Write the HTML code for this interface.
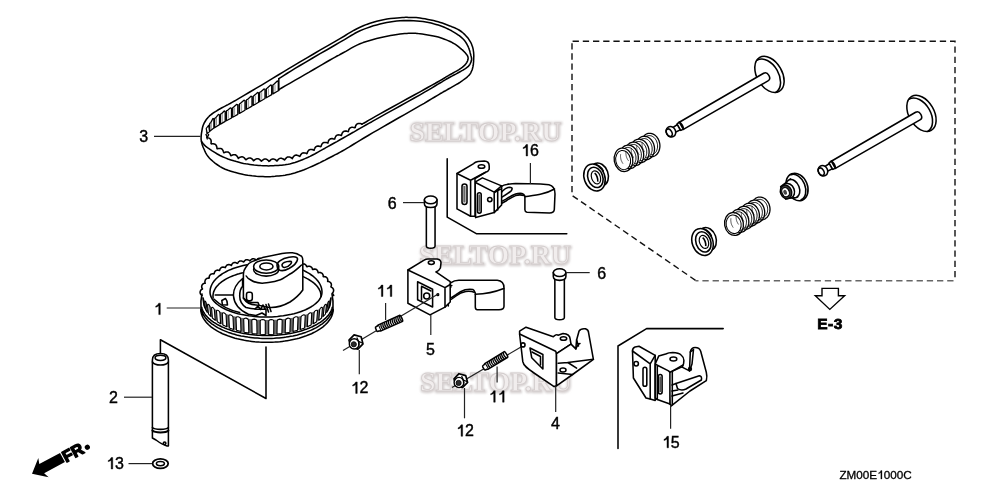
<!DOCTYPE html>
<html><head><meta charset="utf-8"><style>
html,body{margin:0;padding:0;background:#fff;}
body{width:1000px;height:499px;overflow:hidden;}
svg{display:block;will-change:transform;}
text{-webkit-font-smoothing:antialiased;}
.s{fill:none;stroke:#000;stroke-width:1.55;stroke-linejoin:round;stroke-linecap:round;}
.w{fill:#fff;stroke:#000;stroke-width:1.55;stroke-linejoin:round;}
.t{fill:#888;stroke:#000;stroke-width:1;}
.tw{fill:#fff;stroke:#000;stroke-width:1.1;stroke-linejoin:round;}
.tt{stroke:#000;stroke-width:1;}
.l{stroke:#222;stroke-width:1.2;}
.lb{font-family:"Liberation Sans",sans-serif;font-size:16px;fill:#000;stroke:#000;stroke-width:0.4;text-anchor:middle;}
.wm{font-family:"Liberation Serif",serif;font-weight:bold;font-size:27.5px;fill:#f1eded;stroke:#d3cdcd;stroke-width:0.8;filter:url(#wmblur);}
.wmh{font-family:"Liberation Serif",serif;font-weight:bold;font-size:27.5px;fill:#d6d0d0;stroke:#d6d0d0;stroke-width:2.6;filter:url(#wmblur2);}
</style></head><body>
<svg width="1000" height="499" viewBox="0 0 1000 499">
<defs><filter id="wmblur" x="-5%" y="-20%" width="110%" height="140%"><feGaussianBlur stdDeviation="0.5"/></filter><filter id="wmblur2" x="-5%" y="-30%" width="110%" height="160%"><feGaussianBlur stdDeviation="1.3"/></filter></defs>
<rect width="1000" height="499" fill="#fff"/>
<text x="409.79999999999995" y="141.2" class="wmh" textLength="152" lengthAdjust="spacingAndGlyphs">SELTOP.RU</text><text x="409.4" y="140.6" class="wm" textLength="152" lengthAdjust="spacingAndGlyphs">SELTOP.RU</text><text x="419.4" y="264.6" class="wmh" textLength="152" lengthAdjust="spacingAndGlyphs">SELTOP.RU</text><text x="419" y="264" class="wm" textLength="152" lengthAdjust="spacingAndGlyphs">SELTOP.RU</text><text x="420.4" y="391.6" class="wmh" textLength="152" lengthAdjust="spacingAndGlyphs">SELTOP.RU</text><text x="420" y="391" class="wm" textLength="152" lengthAdjust="spacingAndGlyphs">SELTOP.RU</text>
<g id="belt"><path d="M201.2,136.0 L201.3,134.6 L201.5,133.1 L201.8,131.3 L202.1,129.6 L202.4,128.0 L202.8,126.5 L203.2,125.2 L203.7,124.1 L204.2,123.0 L204.8,122.0 L205.4,121.0 L206.0,120.0 L206.7,119.1 L207.4,118.2 L208.2,117.3 L209.0,116.5 L209.8,115.6 L210.8,114.8 L211.9,114.0 L213.0,113.2 L214.2,112.3 L215.5,111.6 L216.7,110.8 L218.0,110.0 L219.3,109.2 L220.6,108.5 L221.9,107.8 L223.2,107.1 L224.6,106.4 L226.0,105.6 L227.2,105.0 L228.0,104.6 L228.9,104.1 L230.1,103.5 L232.0,102.4 L234.9,100.8 L239.0,98.4 L244.1,95.4 L249.8,92.0 L255.9,88.4 L262.0,84.8 L267.7,81.4 L273.0,78.2 L278.2,75.0 L283.4,71.9 L288.7,68.7 L294.2,65.4 L300.0,61.9 L306.5,58.1 L313.5,54.0 L320.8,49.7 L327.9,45.6 L334.4,41.8 L340.0,38.6 L344.5,36.0 L348.1,33.7 L351.2,31.9 L354.1,30.2 L356.9,28.7 L360.0,27.2 L363.3,25.8 L366.7,24.4 L370.0,23.3 L373.3,22.2 L376.7,21.2 L380.0,20.4 L383.4,19.7 L387.0,19.1 L390.6,18.6 L394.1,18.3 L397.2,18.0 L400.0,17.7 L402.2,17.5 L404.1,17.4 L405.6,17.3 L407.0,17.3 L408.4,17.4 L410.0,17.4 L411.6,17.4 L413.1,17.4 L414.6,17.5 L416.2,17.6 L418.0,17.7 L420.0,18.0 L422.4,18.4 L425.0,18.8 L427.9,19.4 L430.7,20.0 L433.5,20.6 L436.0,21.2 L438.2,21.8 L440.3,22.4 L442.3,23.1 L444.2,23.8 L446.1,24.5 L448.0,25.2 L449.9,25.9 L451.9,26.7 L453.8,27.4 L455.6,28.3 L457.4,29.1 L459.0,30.0 L460.5,31.0 L461.9,32.0 L463.1,33.0 L464.3,34.1 L465.4,35.2 L466.5,36.4 L467.5,37.6 L468.5,38.8 L469.3,40.1 L470.1,41.4 L470.9,42.7 L471.5,44.0 L472.0,45.4 L472.5,46.8 L472.9,48.2 L473.2,49.6 L473.4,51.0 L473.6,52.4 L473.7,53.8 L473.8,55.2 L473.8,56.6 L473.7,58.0 L473.7,59.3 L473.6,60.5 L473.6,61.6 L473.5,62.5 L473.4,63.4 L473.4,64.3 L473.2,65.1 L473.1,66.0 L472.9,66.9 L472.7,67.7 L472.5,68.5 L472.3,69.4 L472.0,70.2 L471.6,71.0 L471.2,71.8 L470.9,72.6 L470.5,73.3 L470.0,74.1 L469.3,74.9 L468.5,75.8 L467.4,76.8 L466.2,77.8 L464.8,78.9 L463.3,80.0 L461.7,81.2 L460.0,82.3 L458.2,83.5 L456.1,84.7 L454.0,85.9 L451.8,87.1 L449.8,88.3 L448.0,89.3 L446.6,90.1 L445.5,90.7 L444.5,91.2 L443.4,91.8 L442.0,92.7 L440.0,93.8 L437.5,95.3 L434.7,97.0 L431.5,98.9 L428.0,101.0 L424.2,103.3 L420.0,105.7 L415.3,108.4 L410.1,111.4 L404.5,114.6 L398.8,117.8 L393.2,121.0 L388.0,124.0 L383.0,126.9 L377.9,129.8 L372.9,132.7 L368.2,135.5 L363.9,138.0 L360.0,140.3 L356.7,142.3 L354.0,144.0 L351.6,145.5 L349.4,146.9 L347.2,148.2 L344.8,149.6 L342.3,151.0 L339.8,152.4 L337.4,153.7 L334.9,154.9 L332.5,156.2 L330.0,157.5 L327.5,158.8 L325.1,160.1 L322.6,161.3 L320.1,162.6 L317.6,163.8 L315.0,165.0 L312.3,166.2 L309.6,167.4 L306.8,168.6 L304.1,169.7 L301.4,170.7 L299.0,171.6 L296.8,172.3 L294.7,173.0 L292.8,173.5 L290.9,174.0 L289.0,174.4 L287.0,174.8 L285.0,175.2 L282.9,175.5 L280.9,175.7 L278.9,175.9 L276.9,176.1 L275.0,176.3 L273.3,176.4 L271.6,176.6 L270.1,176.7 L268.5,176.7 L266.8,176.7 L265.0,176.7 L263.0,176.6 L260.9,176.5 L258.7,176.4 L256.4,176.3 L254.2,176.0 L252.0,175.8 L249.9,175.5 L247.8,175.3 L245.7,174.9 L243.6,174.6 L241.4,174.1 L239.0,173.5 L236.4,172.8 L233.7,172.1 L230.8,171.2 L228.0,170.3 L225.2,169.2 L222.6,168.0 L220.1,166.6 L217.7,165.0 L215.3,163.3 L213.1,161.5 L211.0,159.7 L209.3,158.0 L207.9,156.3 L206.7,154.6 L205.7,152.8 L204.9,151.1 L204.2,149.5 L203.5,148.0 L202.9,146.6 L202.5,145.4 L202.1,144.2 L201.8,143.1 L201.6,142.0 L201.4,141.0 L201.2,140.1 L201.1,139.4 L201.1,138.7 L201.1,137.9 L201.1,137.1 Z" class="w"/><path d="M278.8,78.6 L280.9,77.3 L283.6,75.6 L286.9,73.5 L290.8,71.1 L295.1,68.4 L300.0,65.5 L305.8,62.1 L312.7,58.0 L320.1,53.7 L327.5,49.5 L334.3,45.5 L340.0,42.2 L344.5,39.6 L348.1,37.3 L351.2,35.5 L354.1,33.8 L356.9,32.3 L360.0,30.8 L363.3,29.4 L366.7,28.1 L370.0,26.9 L373.3,25.8 L376.7,24.9 L380.0,24.0 L383.3,23.2 L386.7,22.5 L390.0,21.9 L393.3,21.5 L396.7,21.1 L400.0,20.8 L403.4,20.6 L406.8,20.6 L410.2,20.6 L413.6,20.7 L416.9,20.9 L420.0,21.2 L422.9,21.6 L425.8,22.0 L428.5,22.5 L431.1,23.1 L433.6,23.8 L436.0,24.4 L438.3,25.1 L440.4,25.8 L442.4,26.5 L444.3,27.3 L446.2,28.1 L448.0,29.0 L449.8,29.9 L451.6,30.8 L453.3,31.8 L455.0,32.8 L456.6,33.8 L458.0,34.8 L459.3,35.7 L460.5,36.7 L461.6,37.6 L462.6,38.5 L463.6,39.5 L464.5,40.5 L465.3,41.6 L466.1,42.8 L466.8,44.0 L467.4,45.2 L468.0,46.3 L468.5,47.5 L469.0,48.6 L469.3,49.7 L469.7,50.8 L470.0,51.9 L470.2,53.0 L470.5,54.0 L470.8,55.0 L471.0,55.9 L471.3,56.9 L471.5,57.8 L471.6,58.7 L471.6,59.5 L471.5,60.3 L471.3,61.1 L471.0,61.9 L470.7,62.6 L470.4,63.3 L470.0,64.0 L469.7,64.6 L469.4,65.1 L469.0,65.6 L468.6,66.1 L468.0,66.6 L467.3,67.2 L466.4,67.9 L465.4,68.6 L464.2,69.3 L463.0,70.1 L461.5,70.9 L460.0,71.8 L458.2,72.8 L456.2,73.9 L454.0,75.0 L451.9,76.1 L449.8,77.2 L448.0,78.2 L446.6,79.0 L445.5,79.7 L444.5,80.3 L443.4,80.9 L442.0,81.8 L440.0,83.0 L437.6,84.4 L435.0,86.0 L432.0,87.8 L428.6,89.8 L424.6,92.1 L420.0,94.8 L414.3,98.0 L407.4,101.9 L400.0,106.0 L392.6,110.1 L385.7,113.9 L380.0,117.1 L375.5,119.6 L371.9,121.7 L368.8,123.4 L365.9,125.0 L363.1,126.6 L360.0,128.4 L356.6,130.3 L353.2,132.3 L349.8,134.2 L346.5,136.1 L343.2,138.0 L340.0,139.8 L336.9,141.6 L333.8,143.3 L330.7,145.0 L327.8,146.6 L325.0,148.2 L322.4,149.6 L320.1,150.9 L318.0,152.1 L316.0,153.2 L314.1,154.3 L312.2,155.3 L310.0,156.4 L307.6,157.5 L305.0,158.6 L302.4,159.7 L299.7,160.8 L297.2,161.7 L295.0,162.5 L293.0,163.1 L291.3,163.6 L289.7,164.0 L288.1,164.3 L286.6,164.5 L285.0,164.8 L283.3,165.0 L281.7,165.2 L280.0,165.3 L278.3,165.4 L276.7,165.5 L275.0,165.6 L273.4,165.7 L271.8,165.8 L270.2,165.8 L268.6,165.9 L266.8,165.8 L265.0,165.8 L263.0,165.7 L260.9,165.6 L258.7,165.4 L256.4,165.2 L254.2,165.0 L252.0,164.7 L249.9,164.4 L247.8,164.1 L245.7,163.8 L243.6,163.4 L241.4,162.9 L239.0,162.3 L236.4,161.6 L233.7,160.8 L230.9,159.9 L228.0,159.0 L225.3,157.9 L222.6,156.8 L220.0,155.5 L217.3,154.0 L214.7,152.4 L212.2,150.9 L210.0,149.4 L208.2,148.2 L206.8,147.2 L205.8,146.4 L205.1,145.7 L204.5,145.1 L204.0,144.6 L203.5,144.0 L203.0,143.5 L202.6,142.9 L202.3,142.5 L202.0,142.1 L201.8,141.8 L201.6,141.5" class="s"/><path d="M278.8,89.6 L281.6,88.0 L285.6,85.7 L290.2,83.1 L295.2,80.2 L300.2,77.3 L304.8,74.7 L309.2,72.2 L313.7,69.5 L318.2,66.9 L322.5,64.3 L326.5,62.0 L330.0,60.0 L332.9,58.4 L335.2,57.1 L337.1,56.0 L339.0,55.1 L340.9,54.0 L343.2,52.8 L345.8,51.4 L348.4,49.8 L351.2,48.2 L354.0,46.6 L357.0,45.1 L360.0,43.8 L363.1,42.6 L366.4,41.5 L369.8,40.5 L373.2,39.5 L376.6,38.6 L380.0,37.8 L383.4,37.0 L387.0,36.3 L390.5,35.6 L393.9,35.0 L397.1,34.4 L400.0,34.0 L402.5,33.7 L404.7,33.5 L406.8,33.4 L408.6,33.3 L410.3,33.3 L412.0,33.3 L413.5,33.3 L414.7,33.3 L415.8,33.3 L416.9,33.4 L418.2,33.6 L420.0,33.8 L422.2,34.1 L424.9,34.5 L427.8,34.9 L430.7,35.4 L433.5,35.9 L436.0,36.5 L438.3,37.1 L440.5,37.8 L442.6,38.5 L444.5,39.2 L446.3,39.9 L448.0,40.6 L449.5,41.2 L450.7,41.8 L451.9,42.4 L452.9,43.0 L454.0,43.6 L455.0,44.2 L456.1,44.9 L457.1,45.6 L458.1,46.4 L459.0,47.1 L459.9,47.9 L460.8,48.6 L461.6,49.3 L462.4,49.9 L463.1,50.6 L463.7,51.2 L464.4,51.9 L465.0,52.6 L465.6,53.3 L466.2,54.1 L466.8,54.8 L467.4,55.6 L467.8,56.4 L468.0,57.2 L468.1,58.0 L468.1,58.9 L467.9,59.8 L467.6,60.7 L467.2,61.7 L466.7,62.6 L466.1,63.5 L465.3,64.4 L464.5,65.4 L463.4,66.3 L462.2,67.3 L460.8,68.4 L459.0,69.6 L456.9,70.8 L454.5,72.2 L452.2,73.5 L449.9,74.7 L448.0,75.8 L446.5,76.7 L445.4,77.4 L444.4,78.0 L443.4,78.6 L442.0,79.5 L440.0,80.6 L437.6,82.0 L435.0,83.5 L432.0,85.1 L428.6,87.0 L424.6,89.2 L420.0,91.8 L414.2,95.0 L407.3,98.8 L399.9,102.9 L392.4,107.0 L385.6,110.8 L380.0,113.9 L375.5,116.4 L371.7,118.6 L368.5,120.4 L365.9,122.0 L363.7,123.2 L362.0,124.2" class="s"/><path d="M362.0,124.2 L361.2,123.8 L360.5,123.6 L359.9,123.5 L359.3,123.4 L358.7,123.4 L358.2,123.5 L357.7,123.7 L357.2,123.9 L356.8,124.2 L356.5,124.6 L356.1,125.0 L355.8,125.5 L355.6,126.1 L355.4,126.7 L355.2,127.5 L354.8,127.8 L354.1,127.5 L353.5,127.4 L352.8,127.3 L352.2,127.2 L351.7,127.3 L351.2,127.4 L350.7,127.6 L350.3,127.8 L349.9,128.1 L349.5,128.5 L349.2,129.0 L348.9,129.5 L348.7,130.1 L348.5,130.8 L348.4,131.6 L347.7,131.5 L347.0,131.3 L346.4,131.1 L345.8,131.1 L345.2,131.1 L344.7,131.1 L344.2,131.3 L343.7,131.5 L343.3,131.7 L342.9,132.1 L342.6,132.5 L342.3,133.0 L342.0,133.6 L341.8,134.2 L341.6,134.9 L341.4,135.5 L340.6,135.2 L340.0,135.0 L339.3,134.9 L338.7,134.8 L338.2,134.9 L337.6,135.0 L337.2,135.1 L336.7,135.4 L336.3,135.7 L336.0,136.1 L335.6,136.5 L335.4,137.0 L335.1,137.6 L334.9,138.3 L334.8,139.0 L334.2,139.1 L333.5,138.9 L332.9,138.7 L332.3,138.6 L331.7,138.6 L331.1,138.7 L330.6,138.8 L330.2,139.0 L329.7,139.3 L329.4,139.6 L329.0,140.0 L328.7,140.5 L328.4,141.0 L328.2,141.7 L328.0,142.3 L327.9,143.1 L327.1,142.8 L326.4,142.6 L325.8,142.5 L325.2,142.4 L324.6,142.4 L324.1,142.5 L323.6,142.6 L323.2,142.8 L322.8,143.1 L322.4,143.5 L322.1,143.9 L321.8,144.4 L321.5,145.0 L321.3,145.7 L321.1,146.4 L320.7,146.7 L320.0,146.4 L319.3,146.2 L318.7,146.1 L318.1,146.1 L317.6,146.1 L317.1,146.2 L316.6,146.3 L316.2,146.6 L315.8,146.9 L315.4,147.3 L315.1,147.7 L314.8,148.3 L314.5,148.8 L314.3,149.5 L314.1,150.3 L313.5,150.1 L312.8,149.8 L312.2,149.6 L311.6,149.5 L311.0,149.5 L310.5,149.5 L309.9,149.6 L309.5,149.8 L309.0,150.0 L308.6,150.4 L308.3,150.8 L307.9,151.3 L307.6,151.8 L307.4,152.5 L307.2,153.2 L306.9,153.7 L306.2,153.4 L305.5,153.1 L304.9,153.0 L304.3,152.9 L303.8,152.8 L303.3,152.9 L302.9,153.0 L302.4,153.1 L302.0,153.4 L301.6,153.7 L301.3,154.1 L300.9,154.5 L300.6,155.0 L300.2,155.7 L299.9,156.4 L299.4,156.3 L298.8,155.9 L298.2,155.6 L297.6,155.4 L297.0,155.2 L296.5,155.1 L296.0,155.1 L295.5,155.2 L295.0,155.3 L294.6,155.6 L294.2,155.9 L293.8,156.3 L293.4,156.7 L293.0,157.3 L292.6,157.9 L292.3,158.6 L291.6,158.0 L291.0,157.6 L290.4,157.4 L289.9,157.1 L289.3,157.0 L288.8,156.9 L288.3,156.9 L287.8,157.0 L287.4,157.1 L286.9,157.4 L286.5,157.7 L286.1,158.1 L285.6,158.6 L285.2,159.1 L284.9,159.8 L284.4,159.9 L283.8,159.4 L283.2,159.0 L282.7,158.7 L282.1,158.5 L281.6,158.3 L281.1,158.2 L280.6,158.2 L280.2,158.3 L279.7,158.4 L279.2,158.7 L278.8,159.0 L278.3,159.4 L277.9,159.9 L277.4,160.4 L277.0,161.1 L276.4,160.6 L275.9,160.1 L275.4,159.7 L274.9,159.4 L274.3,159.2 L273.8,159.0 L273.4,158.9 L272.8,158.9 L272.4,159.0 L271.9,159.2 L271.4,159.4 L271.0,159.7 L270.5,160.1 L270.0,160.6 L269.5,161.1 L269.0,161.4 L268.5,160.8 L268.0,160.3 L267.5,159.9 L267.0,159.5 L266.5,159.3 L266.1,159.1 L265.6,159.0 L265.1,159.0 L264.6,159.1 L264.1,159.2 L263.6,159.5 L263.1,159.8 L262.5,160.2 L262.0,160.6 L261.5,161.2 L261.0,160.9 L260.5,160.3 L260.1,159.9 L259.6,159.5 L259.1,159.2 L258.7,158.9 L258.2,158.8 L257.7,158.7 L257.2,158.7 L256.7,158.8 L256.2,158.9 L255.7,159.2 L255.1,159.5 L254.6,159.9 L254.1,160.4 L253.5,160.8 L253.1,160.1 L252.7,159.6 L252.2,159.1 L251.7,158.7 L251.3,158.4 L250.8,158.2 L250.3,158.0 L249.8,158.0 L249.3,158.0 L248.8,158.1 L248.3,158.3 L247.7,158.5 L247.2,158.8 L246.7,159.2 L246.1,159.8 L245.6,159.6 L245.2,159.0 L244.8,158.5 L244.4,158.0 L244.0,157.6 L243.5,157.3 L243.1,157.1 L242.7,156.9 L242.2,156.8 L241.7,156.8 L241.2,156.9 L240.7,157.1 L240.1,157.3 L239.5,157.5 L238.9,157.9 L238.3,158.4 L238.0,157.7 L237.6,157.0 L237.3,156.5 L236.9,156.0 L236.5,155.6 L236.1,155.2 L235.7,155.0 L235.3,154.8 L234.8,154.7 L234.3,154.7 L233.7,154.7 L233.2,154.8 L232.6,155.0 L232.0,155.2 L231.3,155.6 L230.8,155.6 L230.5,154.9 L230.2,154.2 L229.9,153.7 L229.6,153.2 L229.2,152.8 L228.8,152.5 L228.4,152.2 L227.9,152.0 L227.4,151.9 L227.0,151.9 L226.4,151.9 L225.8,152.0 L225.2,152.2 L224.6,152.4 L223.9,152.8 L223.6,152.2 L223.3,151.5 L223.2,150.9 L222.9,150.4 L222.6,149.9 L222.3,149.4 L222.0,149.1 L221.6,148.8 L221.1,148.6 L220.6,148.5 L220.2,148.4 L219.6,148.4 L219.0,148.4 L218.4,148.5 L217.6,148.7 L217.0,148.7 L216.9,147.9 L216.9,147.3 L216.7,146.6 L216.5,146.1 L216.3,145.6 L216.0,145.1 L215.7,144.8 L215.3,144.4 L214.9,144.2 L214.4,144.0 L213.9,143.9 L213.4,143.8 L212.7,143.8 L212.1,143.8 L211.3,143.9 L211.0,143.5 L211.1,142.8 L211.1,142.1 L211.2,141.6 L211.1,141.0 L211.1,140.6 L211.0,140.2 L210.8,139.7 L210.6,139.4 L210.3,139.0 L209.9,138.7 L209.4,138.3 L208.9,138.1 L208.4,137.9 L207.7,137.6 L206.9,137.4 L207.4,136.8 L207.8,136.2 L208.1,135.7 L208.4,135.1 L208.5,134.5" class="s"/><path d="M205.8,131.0 L205.9,130.7 L206.0,130.4 L206.1,130.0 L206.2,129.6 L206.3,129.1 L206.5,128.6 L206.7,128.1 L207.0,127.5 L207.3,126.9 L207.7,126.2 L208.2,125.5 L208.6,124.8 L209.1,124.0 L209.6,123.3 L210.1,122.6 L210.6,122.0 L211.1,121.4 L211.5,120.9 L212.0,120.5 L212.5,120.0 L213.0,119.6 L213.5,119.1 L214.0,118.7 L214.6,118.2 L215.2,117.7 L215.9,117.2 L216.6,116.7 L217.3,116.2 L218.0,115.7 L218.7,115.2 L219.5,114.7 L220.2,114.2 L220.9,113.7 L221.7,113.3 L222.5,112.8 L223.2,112.4 L224.0,111.9 L224.8,111.5 L225.7,111.1 L226.5,110.6 L227.2,110.2 L227.6,110.0 L227.9,109.9 L228.3,109.7 L228.9,109.4 L230.0,108.9 L231.5,108.1 L233.8,106.8 L237.1,105.0 L241.3,102.6 L246.3,99.8 L251.5,96.8 L256.8,93.8 L261.8,91.0 L266.1,88.5 L269.5,86.6 L272.0,85.2 L273.9,84.0 L275.3,83.2 L276.4,82.5 L277.2,82.0 L277.7,81.7 L278.3,81.3 L278.8,81.0 L278.8,90.5 L278.2,90.8 L277.7,91.2 L277.0,91.5 L276.2,92.0 L275.0,92.7 L273.6,93.5 L271.7,94.6 L269.3,96.0 L266.1,97.9 L262.0,100.3 L257.3,103.0 L252.4,105.9 L247.4,108.8 L242.8,111.5 L238.8,113.8 L235.7,115.6 L233.5,116.8 L232.0,117.7 L231.0,118.3 L230.4,118.6 L230.0,118.8 L229.6,119.0 L229.2,119.2 L228.5,119.6 L227.6,120.1 L226.8,120.5 L226.0,121.0 L225.2,121.4 L224.3,121.9 L223.5,122.3 L222.8,122.8 L222.0,123.2 L221.3,123.6 L220.5,124.0 L219.8,124.4 L219.1,124.8 L218.4,125.2 L217.8,125.7 L217.1,126.1 L216.4,126.5 L215.7,126.9 L215.0,127.4 L214.3,127.9 L213.6,128.3 L212.9,128.8 L212.2,129.3 L211.6,129.7 L211.0,130.2 L210.4,130.6 L209.9,131.1 L209.3,131.5 L208.8,132.0 L208.3,132.4 L207.9,132.8 L207.5,133.2 L207.2,133.6 L207.0,134.0 L206.8,134.3 L206.7,134.7 L206.6,135.0 L206.6,135.3 L206.6,135.6 L206.5,135.8 L206.5,136.0 Z" style="fill:#6a6a6a;stroke:none"/><path class="tw" style="stroke-width:1.3" d="M209.7,131.2 L209.7,123.8 Q209.7,122.9 210.7,122.9 L212.9,118.5 Q213.9,118.5 213.9,119.4 L213.9,128.1 Z"/><line x1="211.3" y1="122.4" x2="211.3" y2="129.0" style="stroke:#888;stroke-width:0.9"/><path class="tw" style="stroke-width:1.3" d="M214.6,127.7 L214.6,118.8 Q214.6,117.9 215.6,117.9 L218.5,114.4 Q219.5,114.4 219.5,115.3 L219.5,124.6 Z"/><line x1="216.5" y1="118.0" x2="216.5" y2="125.5" style="stroke:#888;stroke-width:0.9"/><path class="tw" style="stroke-width:1.3" d="M220.5,124.1 L220.5,114.6 Q220.5,113.7 221.5,113.7 L224.2,111.0 Q225.2,111.0 225.2,111.9 L225.2,121.4 Z"/><line x1="222.3" y1="114.1" x2="222.3" y2="122.0" style="stroke:#888;stroke-width:0.9"/><path class="tw" style="stroke-width:1.3" d="M226.4,120.8 L226.4,111.3 Q226.4,110.4 227.4,110.4 L230.5,107.8 Q231.5,107.8 231.5,108.7 L231.5,118.0 Z"/><line x1="228.3" y1="110.9" x2="228.3" y2="118.7" style="stroke:#888;stroke-width:0.9"/><path class="tw" style="stroke-width:1.3" d="M232.7,117.3 L232.7,108.0 Q232.7,107.1 233.7,107.1 L236.8,104.3 Q237.8,104.3 237.8,105.2 L237.8,114.4 Z"/><line x1="234.6" y1="107.5" x2="234.6" y2="115.2" style="stroke:#888;stroke-width:0.9"/><path class="tw" style="stroke-width:1.3" d="M239.5,113.4 L239.5,104.2 Q239.5,103.3 240.5,103.3 L244.0,100.2 Q245.0,100.2 245.0,101.1 L245.0,110.2 Z"/><line x1="241.6" y1="103.6" x2="241.6" y2="111.2" style="stroke:#888;stroke-width:0.9"/><path class="tw" style="stroke-width:1.3" d="M246.5,109.3 L246.5,100.3 Q246.5,99.4 247.5,99.4 L251.0,96.2 Q252.0,96.2 252.0,97.1 L252.0,106.1 Z"/><line x1="248.6" y1="99.7" x2="248.6" y2="107.1" style="stroke:#888;stroke-width:0.9"/><path class="tw" style="stroke-width:1.3" d="M253.2,105.4 L253.2,96.5 Q253.2,95.6 254.2,95.6 L257.6,92.5 Q258.6,92.5 258.6,93.4 L258.6,102.2 Z"/><line x1="255.3" y1="95.9" x2="255.3" y2="103.2" style="stroke:#888;stroke-width:0.9"/><path class="tw" style="stroke-width:1.3" d="M259.6,101.7 L259.6,92.8 Q259.6,91.9 260.6,91.9 L264.0,88.9 Q265.0,88.9 265.0,89.8 L265.0,98.5 Z"/><line x1="261.7" y1="92.3" x2="261.7" y2="99.5" style="stroke:#888;stroke-width:0.9"/><path class="tw" style="stroke-width:1.3" d="M266.3,97.7 L266.3,89.0 Q266.3,88.1 267.3,88.1 L270.7,85.0 Q271.7,85.0 271.7,85.9 L271.7,94.6 Z"/><line x1="268.4" y1="88.5" x2="268.4" y2="95.6" style="stroke:#888;stroke-width:0.9"/><path class="tw" style="stroke-width:1.3" d="M272.9,93.9 L272.9,85.2 Q272.9,84.3 273.9,84.3 L277.3,81.0 Q278.3,81.0 278.3,81.9 L278.3,90.8 Z"/><line x1="275.0" y1="84.6" x2="275.0" y2="91.7" style="stroke:#888;stroke-width:0.9"/><path class="tw" style="stroke-width:1.2" d="M206.2,128.5 L208.6,125.3 L209.6,131.6 L207.3,133.6 Z"/><path d="M205.8,134 C206.8,136 207.8,137.5 207.2,139.5" style="fill:none;stroke:#000;stroke-width:1.4"/><line class="s" x1="278.8" y1="78.8" x2="278.8" y2="90.5"/></g>
<line class="l" x1="154" y1="136.4" x2="200.5" y2="136.4"/>
<path d="M572,41.3 L955,41.3 L955,280.8" fill="none" stroke="#111" stroke-width="1.4" stroke-dasharray="6.3 3.9" stroke-dashoffset="-0.6"/>
<path d="M955,280.8 L695.5,280.8" fill="none" stroke="#666" stroke-width="1.5" stroke-dasharray="6.3 3.9" stroke-dashoffset="-1.5"/>
<path d="M695.5,280.3 L572,195.4 L572,41.3" fill="none" stroke="#111" stroke-width="1.4" stroke-dasharray="6.3 3.9"/>
<g id="gear"><path d="M202.0,294.0 L202.1,292.2 L202.4,290.4 L202.8,288.7 L203.4,286.9 L204.2,285.2 L205.2,283.5 L206.3,281.8 L207.6,280.2 L209.1,278.6 L210.7,277.0 L212.5,275.5 L214.4,274.0 L216.5,272.6 L218.7,271.2 L221.0,270.0 L223.5,268.7 L226.1,267.6 L228.8,266.5 L231.6,265.5 L234.5,264.6 L237.5,263.7 L240.6,262.9 L243.7,262.3 L246.9,261.7 L250.2,261.2 L253.5,260.7 L256.8,260.4 L260.2,260.2 L263.6,260.0 L267.0,260.0 L270.4,260.0 L273.8,260.2 L277.2,260.4 L280.5,260.7 L283.8,261.2 L287.1,261.7 L290.3,262.3 L293.4,262.9 L296.5,263.7 L299.5,264.6 L302.4,265.5 L305.2,266.5 L307.9,267.6 L310.5,268.7 L313.0,270.0 L315.3,271.2 L317.5,272.6 L319.6,274.0 L321.5,275.5 L323.3,277.0 L324.9,278.6 L326.4,280.2 L327.7,281.8 L328.8,283.5 L329.8,285.2 L330.6,286.9 L331.2,288.7 L331.6,290.4 L331.9,292.2 L332.0,294.0 L333.2,309.0 L333.1,310.7 L332.8,312.5 L332.4,314.2 L331.8,315.9 L330.9,317.6 L330.0,319.3 L328.8,320.9 L327.5,322.5 L326.0,324.1 L324.3,325.6 L322.5,327.1 L320.6,328.6 L318.4,330.0 L316.2,331.3 L313.8,332.5 L311.3,333.7 L308.7,334.9 L305.9,335.9 L303.1,336.9 L300.1,337.8 L297.1,338.7 L293.9,339.4 L290.7,340.1 L287.5,340.7 L284.1,341.2 L280.8,341.6 L277.4,341.9 L273.9,342.1 L270.5,342.3 L267.0,342.3 L263.5,342.3 L260.1,342.1 L256.6,341.9 L253.2,341.6 L249.9,341.2 L246.5,340.7 L243.3,340.1 L240.1,339.4 L236.9,338.7 L233.9,337.8 L230.9,336.9 L228.1,335.9 L225.3,334.9 L222.7,333.7 L220.2,332.5 L217.8,331.3 L215.6,330.0 L213.4,328.6 L211.5,327.1 L209.7,325.6 L208.0,324.1 L206.5,322.5 L205.2,320.9 L204.0,319.3 L203.1,317.6 L202.2,315.9 L201.6,314.2 L201.2,312.5 L200.9,310.7 L200.8,309.0 Z" style="fill:#fff;stroke:none"/><path d="M333.2,309.7 L333.1,311.0 L332.9,312.2 L332.6,313.5 L332.2,314.8 L331.7,316.1 L331.1,317.3 L330.4,318.6 L329.6,319.8 L328.7,321.0 L327.8,322.2 L326.7,323.4 L325.6,324.5 L324.3,325.7 L323.0,326.8 L321.6,327.8 L320.1,328.9 L318.5,329.9 L316.9,330.9 L315.1,331.9 L313.3,332.8 L311.5,333.7 L309.5,334.5 L307.5,335.3 L305.5,336.1 L303.4,336.8 L301.2,337.5 L299.0,338.2 L296.7,338.8 L294.4,339.3 L292.0,339.8 L289.6,340.3 L287.2,340.7 L284.7,341.1 L282.3,341.4 L279.8,341.7 L277.2,341.9 L274.7,342.1 L272.1,342.2 L269.6,342.3 L267.0,342.3 L264.4,342.3 L261.9,342.2 L259.3,342.1 L256.8,341.9 L254.2,341.7 L251.7,341.4 L249.3,341.1 L246.8,340.7 L244.4,340.3 L242.0,339.8 L239.6,339.3 L237.3,338.8 L235.0,338.2 L232.8,337.5 L230.6,336.8 L228.5,336.1 L226.5,335.3 L224.5,334.5 L222.5,333.7 L220.7,332.8 L218.9,331.9 L217.1,330.9 L215.5,329.9 L213.9,328.9 L212.4,327.8 L211.0,326.8 L209.7,325.7 L208.4,324.5 L207.3,323.4 L206.2,322.2 L205.3,321.0 L204.4,319.8 L203.6,318.6 L202.9,317.3 L202.3,316.1 L201.8,314.8 L201.4,313.5 L201.1,312.2 L200.9,311.0 L200.8,309.7" class="s"/><path d="M332.7,309.2 L332.4,310.4 L332.0,311.6 L331.5,312.8 L331.0,313.9 L330.4,315.1 L329.6,316.2 L328.8,317.4 L327.9,318.5 L327.0,319.6 L325.9,320.7 L324.8,321.7 L323.6,322.7 L322.3,323.8 L320.9,324.7 L319.5,325.7 L318.0,326.6 L316.4,327.6 L314.8,328.4 L313.0,329.3 L311.3,330.1 L309.4,330.9 L307.6,331.6 L305.6,332.4 L303.6,333.0 L301.6,333.7 L299.5,334.3 L297.4,334.9 L295.2,335.4 L293.0,335.9 L290.7,336.3 L288.4,336.7 L286.1,337.1 L283.8,337.4 L281.4,337.7 L279.1,338.0 L276.7,338.1 L274.3,338.3 L271.8,338.4 L269.4,338.5 L267.0,338.5 L264.6,338.5 L262.2,338.4 L259.7,338.3 L257.3,338.1 L254.9,338.0 L252.6,337.7 L250.2,337.4 L247.9,337.1 L245.6,336.7 L243.3,336.3 L241.0,335.9 L238.8,335.4 L236.6,334.9 L234.5,334.3 L232.4,333.7 L230.4,333.0 L228.4,332.4 L226.4,331.6 L224.6,330.9 L222.7,330.1 L221.0,329.3 L219.2,328.4 L217.6,327.6 L216.0,326.6 L214.5,325.7 L213.1,324.7 L211.7,323.8 L210.4,322.7 L209.2,321.7 L208.1,320.7 L207.0,319.6 L206.1,318.5 L205.2,317.4 L204.4,316.2 L203.6,315.1 L203.0,313.9 L202.5,312.8 L202.0,311.6 L201.6,310.4 L201.3,309.2" class="s"/><path d="M332.3,307.3 L332.0,308.5 L331.6,309.6 L331.1,310.8 L330.5,311.9 L329.8,313.0 L329.1,314.1 L328.3,315.2 L327.3,316.3 L326.4,317.3 L325.3,318.4 L324.1,319.4 L322.9,320.4 L321.6,321.3 L320.3,322.3 L318.8,323.2 L317.3,324.1 L315.7,325.0 L314.1,325.8 L312.4,326.7 L310.7,327.4 L308.8,328.2 L307.0,328.9 L305.0,329.6 L303.1,330.3 L301.1,330.9 L299.0,331.5 L296.9,332.0 L294.7,332.5 L292.6,333.0 L290.3,333.4 L288.1,333.8 L285.8,334.2 L283.5,334.5 L281.2,334.7 L278.9,335.0 L276.5,335.2 L274.1,335.3 L271.8,335.4 L269.4,335.5 L267.0,335.5 L264.6,335.5 L262.2,335.4 L259.9,335.3 L257.5,335.2 L255.1,335.0 L252.8,334.7 L250.5,334.5 L248.2,334.2 L245.9,333.8 L243.7,333.4 L241.4,333.0 L239.3,332.5 L237.1,332.0 L235.0,331.5 L232.9,330.9 L230.9,330.3 L229.0,329.6 L227.0,328.9 L225.2,328.2 L223.3,327.4 L221.6,326.7 L219.9,325.8 L218.3,325.0 L216.7,324.1 L215.2,323.2 L213.7,322.3 L212.4,321.3 L211.1,320.4 L209.9,319.4 L208.7,318.4 L207.6,317.3 L206.7,316.3 L205.7,315.2 L204.9,314.1 L204.2,313.0 L203.5,311.9 L202.9,310.8 L202.4,309.6 L202.0,308.5 L201.7,307.3" class="s"/><path class="s" d="M202,294 C200.8,299 200.6,304 201,309 C201.5,312 202,313.5 203,315"/><path class="s" d="M332,294 C333,298.5 333.3,304 333,309 C332.8,311.5 332,313.5 331,315"/><path d="M331.9,294.3 L331.7,295.4 L331.5,296.4 L331.1,297.4 L330.7,298.4 L330.1,299.4 L329.5,300.4 L328.8,301.4 L328.0,302.4 L327.1,303.3 L326.1,304.3 L325.0,305.2 L323.8,306.1 L322.6,307.0 L321.3,307.8 L319.9,308.7 L318.4,309.5 L316.9,310.3 L315.2,311.1 L313.6,311.8 L311.8,312.6 L310.0,313.3 L308.1,313.9 L306.1,314.6 L304.1,315.2 L302.1,315.7 L300.0,316.3 L297.8,316.8 L295.6,317.2 L293.4,317.7 L291.1,318.1 L288.8,318.4 L286.5,318.8 L284.1,319.0 L281.7,319.3 L279.3,319.5 L276.8,319.7 L274.4,319.8 L271.9,319.9 L269.5,320.0 L267.0,320.0 L264.5,320.0 L262.1,319.9 L259.6,319.8 L257.2,319.7 L254.7,319.5 L252.3,319.3 L249.9,319.0 L247.5,318.8 L245.2,318.4 L242.9,318.1 L240.6,317.7 L238.4,317.2 L236.2,316.8 L234.0,316.3 L231.9,315.7 L229.9,315.2 L227.9,314.6 L225.9,313.9 L224.0,313.3 L222.2,312.6 L220.4,311.8 L218.8,311.1 L217.1,310.3 L215.6,309.5 L214.1,308.7 L212.7,307.8 L211.4,307.0 L210.2,306.1 L209.0,305.2 L207.9,304.3 L206.9,303.3 L206.0,302.4 L205.2,301.4 L204.5,300.4 L203.9,299.4 L203.3,298.4 L202.9,297.4 L202.5,296.4 L202.3,295.4 L202.1,294.3 L203.1,301.7 L203.2,303.0 L203.5,304.3 L203.9,305.6 L204.3,306.9 L204.8,308.2 L205.5,309.5 L206.2,310.7 L207.0,312.0 L207.9,313.2 L208.8,314.4 L209.9,315.6 L211.0,316.7 L212.2,317.9 L213.5,319.0 L214.9,320.1 L216.4,321.1 L217.9,322.1 L219.5,323.1 L221.2,324.1 L222.9,325.0 L224.7,325.9 L226.5,326.7 L228.5,327.5 L230.4,328.3 L232.4,329.0 L234.5,329.7 L236.6,330.4 L238.8,331.0 L241.0,331.5 L243.2,332.0 L245.5,332.5 L247.8,332.9 L250.2,333.3 L252.5,333.6 L254.9,333.9 L257.3,334.1 L259.7,334.3 L262.1,334.4 L264.6,334.5 L267.0,334.5 L269.4,334.5 L271.9,334.4 L274.3,334.3 L276.7,334.1 L279.1,333.9 L281.5,333.6 L283.8,333.3 L286.2,332.9 L288.5,332.5 L290.8,332.0 L293.0,331.5 L295.2,331.0 L297.4,330.4 L299.5,329.7 L301.6,329.0 L303.6,328.3 L305.5,327.5 L307.5,326.7 L309.3,325.9 L311.1,325.0 L312.8,324.1 L314.5,323.1 L316.1,322.1 L317.6,321.1 L319.1,320.1 L320.5,319.0 L321.8,317.9 L323.0,316.7 L324.1,315.6 L325.2,314.4 L326.1,313.2 L327.0,312.0 L327.8,310.7 L328.5,309.5 L329.2,308.2 L329.7,306.9 L330.1,305.6 L330.5,304.3 L330.8,303.0 L330.9,301.7 Z" style="fill:#6e6e6e;stroke:none"/><path class="tw" d="M330.2,305.4 L331.2,298.5 Q331.2,297.0 330.7,297.9 Q330.2,299.1 330.2,300.6 L329.2,308.1 Z"/><path class="tw" d="M328.4,309.8 L329.3,302.0 Q329.3,300.5 328.5,301.3 Q327.7,302.5 327.7,304.0 L326.7,312.4 Z"/><path class="tw" d="M325.5,314.0 L326.4,305.3 Q326.4,303.8 325.3,304.5 Q324.1,305.7 324.1,307.2 L323.2,316.5 Z"/><path class="tw" d="M321.6,318.0 L322.4,308.4 Q322.4,306.9 321.0,307.6 Q319.6,308.7 319.6,310.2 L318.8,320.3 Z"/><path class="tw" d="M316.7,321.7 L317.5,311.3 Q317.5,309.8 315.8,310.4 Q314.1,311.4 314.1,312.9 L313.4,323.7 Z"/><path class="tw" d="M311.1,325.0 L311.7,313.9 Q311.7,312.4 309.8,312.9 Q307.9,313.8 307.9,315.3 L307.3,326.8 Z"/><path class="tw" d="M304.6,327.9 L305.2,316.1 Q305.2,314.6 303.1,315.0 Q301.0,315.8 301.0,317.3 L300.4,329.4 Z"/><path class="tw" d="M297.5,330.3 L298.0,318.0 Q298.0,316.5 295.7,316.8 Q293.4,317.5 293.4,319.0 L293.0,331.5 Z"/><path class="tw" d="M289.9,332.2 L290.3,319.5 Q290.3,318.0 287.9,318.1 Q285.5,318.7 285.5,320.2 L285.2,333.1 Z"/><path class="tw" d="M281.9,333.5 L282.2,320.6 Q282.2,319.1 279.7,319.1 Q277.2,319.5 277.2,321.0 L277.0,334.1 Z"/><path class="tw" d="M273.7,334.3 L273.8,321.2 Q273.8,319.7 271.2,319.5 Q268.7,319.8 268.7,321.3 L268.7,334.5 Z"/><path class="tw" d="M265.3,334.5 L265.3,321.3 Q265.3,319.8 262.8,319.5 Q260.2,319.7 260.2,321.2 L260.3,334.3 Z"/><path class="tw" d="M257.0,334.1 L256.8,321.0 Q256.8,319.5 254.3,319.1 Q251.8,319.1 251.8,320.6 L252.1,333.5 Z"/><path class="tw" d="M248.8,333.1 L248.5,320.2 Q248.5,318.7 246.1,318.1 Q243.7,318.0 243.7,319.5 L244.1,332.2 Z"/><path class="tw" d="M241.0,331.5 L240.6,319.0 Q240.6,317.5 238.3,316.8 Q236.0,316.5 236.0,318.0 L236.5,330.3 Z"/><path class="tw" d="M233.6,329.4 L233.0,317.3 Q233.0,315.8 230.9,315.0 Q228.8,314.6 228.8,316.1 L229.4,327.9 Z"/><path class="tw" d="M226.7,326.8 L226.1,315.3 Q226.1,313.8 224.2,312.9 Q222.3,312.4 222.3,313.9 L222.9,325.0 Z"/><path class="tw" d="M220.6,323.7 L219.9,312.9 Q219.9,311.4 218.2,310.4 Q216.5,309.8 216.5,311.3 L217.3,321.7 Z"/><path class="tw" d="M215.2,320.3 L214.4,310.2 Q214.4,308.7 213.0,307.6 Q211.6,306.9 211.6,308.4 L212.4,318.0 Z"/><path class="tw" d="M210.8,316.5 L209.9,307.2 Q209.9,305.7 208.7,304.5 Q207.6,303.8 207.6,305.3 L208.5,314.0 Z"/><path class="tw" d="M207.3,312.4 L206.3,304.0 Q206.3,302.5 205.5,301.3 Q204.7,300.5 204.7,302.0 L205.6,309.8 Z"/><path class="tw" d="M204.8,308.1 L203.8,300.6 Q203.8,299.1 203.3,297.9 Q202.8,297.0 202.8,298.5 L203.8,305.4 Z"/><path d="M202.1,295.4 L201.5,295.1 L201.2,294.8 L201.0,294.6 L200.7,294.3 L200.6,294.0 L200.4,293.7 L200.3,293.4 L200.2,293.1 L200.1,292.8 L200.1,292.5 L200.1,292.2 L200.1,291.9 L200.2,291.6 L200.3,291.3 L200.4,291.0 L200.5,290.7 L200.7,290.4 L200.9,290.1 L201.1,289.9 L201.4,289.6 L201.7,289.4 L202.1,289.2 L202.5,289.0 L202.4,288.7 L202.1,288.3 L202.0,288.0 L201.8,287.6 L201.8,287.2 L201.7,286.9 L201.7,286.6 L201.7,286.2 L201.8,285.9 L201.8,285.6 L202.0,285.3 L202.1,285.0 L202.3,284.7 L202.5,284.5 L202.7,284.2 L202.9,284.0 L203.2,283.8 L203.6,283.6 L203.9,283.4 L204.3,283.3 L204.7,283.2 L205.3,283.2 L205.1,282.7 L205.0,282.2 L204.9,281.8 L204.9,281.4 L205.0,281.0 L205.0,280.7 L205.2,280.3 L205.3,280.0 L205.5,279.7 L205.7,279.4 L205.9,279.1 L206.2,278.9 L206.4,278.7 L206.8,278.5 L207.1,278.4 L207.5,278.2 L207.9,278.2 L208.4,278.1 L208.9,278.1 L209.3,278.0 L209.2,277.5 L209.2,277.0 L209.3,276.5 L209.4,276.1 L209.6,275.7 L209.8,275.4 L210.0,275.1 L210.2,274.8 L210.5,274.5 L210.8,274.3 L211.2,274.1 L211.5,274.0 L211.9,273.9 L212.4,273.8 L212.8,273.8 L213.3,273.8 L213.9,273.9 L214.2,273.7 L214.3,273.1 L214.4,272.6 L214.6,272.2 L214.8,271.8 L215.0,271.4 L215.3,271.1 L215.6,270.8 L215.9,270.6 L216.3,270.4 L216.7,270.3 L217.1,270.2 L217.6,270.1 L218.1,270.2 L218.6,270.2 L219.2,270.4 L219.6,270.4 L219.8,269.8 L220.0,269.2 L220.2,268.8 L220.5,268.4 L220.8,268.0 L221.1,267.7 L221.5,267.5 L221.9,267.3 L222.3,267.2 L222.8,267.1 L223.2,267.1 L223.7,267.2 L224.3,267.3 L224.9,267.5 L225.4,267.6 L225.6,266.9 L225.8,266.4 L226.2,266.0 L226.5,265.6 L226.8,265.2 L227.2,265.0 L227.7,264.8 L228.1,264.7 L228.6,264.6 L229.1,264.6 L229.6,264.7 L230.1,264.8 L230.7,265.1 L231.4,265.5 L231.6,264.7 L231.9,264.2 L232.3,263.7 L232.6,263.3 L233.0,263.0 L233.5,262.8 L233.9,262.6 L234.4,262.6 L234.9,262.5 L235.4,262.6 L236.0,262.8 L236.5,263.0 L237.2,263.4 L237.6,263.2 L238.0,262.6 L238.3,262.1 L238.7,261.7 L239.2,261.4 L239.6,261.1 L240.1,261.0 L240.6,260.9 L241.1,260.9 L241.7,261.0 L242.2,261.2 L242.8,261.4 L243.4,261.9 L243.9,261.8 L244.3,261.2 L244.7,260.7 L245.1,260.3 L245.6,260.0 L246.1,259.8 L246.6,259.7 L247.1,259.7 L247.6,259.7 L248.2,259.9 L248.7,260.1 L249.3,260.4 L249.9,261.0 L250.3,260.5 L250.8,259.9 L251.3,259.5 L251.7,259.2 L252.2,259.0 L252.7,258.8 L253.3,258.8 L253.8,258.8 L254.3,258.9 L254.9,259.2 L255.4,259.5 L256.0,259.9 L256.5,260.1 L257.0,259.5 L257.5,259.0 L258.0,258.7 L258.5,258.4 L259.0,258.3 L259.6,258.2 L260.1,258.3 L260.6,258.4 L261.2,258.6 L261.7,258.9 L262.3,259.4 L262.8,259.9 L263.3,259.2 L263.8,258.8 L264.3,258.5 L264.9,258.2 L265.4,258.1 L265.9,258.0 L266.5,258.0 L267.0,258.2 L267.5,258.4 L268.1,258.7 L268.6,259.2 L269.1,259.8 L269.6,259.3 L270.2,258.9 L270.7,258.5 L271.2,258.3 L271.8,258.2 L272.3,258.1 L272.8,258.2 L273.4,258.3 L273.9,258.5 L274.4,258.9 L274.9,259.3 L275.4,259.9 L275.9,259.8 L276.5,259.3 L277.0,259.0 L277.6,258.7 L278.1,258.6 L278.6,258.6 L279.2,258.6 L279.7,258.7 L280.2,259.0 L280.7,259.3 L281.2,259.7 L281.6,260.2 L282.1,260.7 L282.7,260.1 L283.2,259.8 L283.8,259.5 L284.3,259.4 L284.9,259.3 L285.4,259.4 L285.9,259.5 L286.4,259.7 L286.8,260.0 L287.3,260.4 L287.7,260.8 L288.1,261.5 L288.7,261.4 L289.3,261.0 L289.8,260.7 L290.4,260.6 L290.9,260.5 L291.4,260.5 L291.9,260.6 L292.4,260.7 L292.9,261.0 L293.3,261.3 L293.7,261.7 L294.1,262.2 L294.5,262.9 L295.0,262.7 L295.6,262.4 L296.2,262.2 L296.7,262.0 L297.2,262.0 L297.7,262.0 L298.2,262.1 L298.7,262.3 L299.1,262.5 L299.5,262.9 L299.9,263.3 L300.2,263.7 L300.6,264.3 L301.0,264.6 L301.6,264.3 L302.1,264.1 L302.7,263.9 L303.2,263.9 L303.7,263.9 L304.2,264.0 L304.6,264.1 L305.0,264.4 L305.4,264.7 L305.8,265.0 L306.1,265.4 L306.4,265.9 L306.6,266.5 L307.0,266.8 L307.6,266.5 L308.2,266.3 L308.7,266.3 L309.2,266.2 L309.7,266.3 L310.1,266.4 L310.5,266.5 L310.9,266.8 L311.3,267.1 L311.6,267.4 L311.9,267.8 L312.2,268.2 L312.4,268.8 L312.5,269.4 L313.0,269.4 L313.6,269.2 L314.1,269.1 L314.6,269.1 L315.1,269.1 L315.5,269.2 L315.9,269.3 L316.3,269.5 L316.7,269.7 L317.0,270.0 L317.3,270.4 L317.5,270.7 L317.7,271.1 L317.9,271.6 L318.1,272.1 L318.1,272.8 L318.6,272.7 L319.2,272.6 L319.7,272.5 L320.1,272.6 L320.6,272.6 L321.0,272.7 L321.3,272.9 L321.7,273.1 L322.0,273.3 L322.3,273.6 L322.5,273.9 L322.7,274.2 L322.9,274.6 L323.1,275.0 L323.2,275.5 L323.2,276.0 L323.2,276.5 L323.6,276.7 L324.1,276.6 L324.6,276.7 L325.0,276.7 L325.4,276.8 L325.8,277.0 L326.1,277.1 L326.4,277.3 L326.7,277.6 L327.0,277.8 L327.2,278.1 L327.4,278.4 L327.5,278.7 L327.6,279.1 L327.7,279.5 L327.8,279.9 L327.8,280.3 L327.7,280.7 L327.6,281.3 L327.9,281.5 L328.4,281.5 L328.8,281.6 L329.2,281.7 L329.5,281.9 L329.9,282.1 L330.2,282.3 L330.4,282.5 L330.6,282.7 L330.8,283.0 L331.0,283.3 L331.2,283.6 L331.3,283.9 L331.3,284.2 L331.4,284.5 L331.4,284.9 L331.4,285.3 L331.3,285.6 L331.2,286.0 L331.1,286.4 L330.9,286.8 L331.0,287.1 L331.4,287.2 L331.8,287.4 L332.1,287.6 L332.4,287.8 L332.6,288.1 L332.9,288.3 L333.1,288.6 L333.2,288.9 L333.4,289.2 L333.5,289.4 L333.5,289.7 L333.6,290.0 L333.6,290.4 L333.6,290.7 L333.5,291.0 L333.5,291.3 L333.4,291.6 L333.2,291.9 L333.1,292.2 L332.9,292.6 L332.6,292.9 L332.3,293.2 L332.3,293.4 L332.7,293.7 L332.9,294.0 L333.2,294.3 L333.3,294.6 L333.5,294.9 L333.6,295.2 L333.7,295.5" class="s"/><path d="M322.0,292.0 L321.9,293.3 L321.7,294.6 L321.3,295.9 L320.8,297.2 L320.1,298.5 L319.3,299.7 L318.3,301.0 L317.2,302.2 L315.9,303.3 L314.5,304.5 L313.0,305.6 L311.3,306.7 L309.5,307.7 L307.6,308.7 L305.6,309.7 L303.5,310.6 L301.2,311.4 L298.9,312.2 L296.5,313.0 L294.0,313.7 L291.4,314.3 L288.8,314.8 L286.1,315.3 L283.3,315.8 L280.5,316.1 L277.6,316.5 L274.8,316.7 L271.9,316.9 L268.9,317.0 L266.0,317.0 L263.1,317.0 L260.1,316.9 L257.2,316.7 L254.4,316.5 L251.5,316.1 L248.7,315.8 L245.9,315.3 L243.2,314.8 L240.6,314.3 L238.0,313.7 L235.5,313.0 L233.1,312.2 L230.8,311.4 L228.5,310.6 L226.4,309.7 L224.4,308.7 L222.5,307.7 L220.7,306.7 L219.0,305.6 L217.5,304.5 L216.1,303.3 L214.8,302.2 L213.7,301.0 L212.7,299.7 L211.9,298.5 L211.2,297.2 L210.7,295.9 L210.3,294.6 L210.1,293.3 L210.0,292.0 L210.0,292.0 L210.1,290.5 L210.3,289.0 L210.7,287.5 L211.2,286.0 L211.9,284.5 L212.7,283.0 L213.7,281.6 L214.8,280.2 L216.1,278.8 L217.5,277.5 L219.0,276.2 L220.7,275.0 L222.5,273.7 L224.4,272.6 L226.4,271.5 L228.5,270.4 L230.8,269.5 L233.1,268.5 L235.5,267.7 L238.0,266.9 L240.6,266.2 L243.2,265.5 L245.9,264.9 L248.7,264.4 L251.5,264.0 L254.4,263.6 L257.2,263.4 L260.1,263.2 L263.1,263.0 L266.0,263.0 L268.9,263.0 L271.9,263.2 L274.8,263.4 L277.6,263.6 L280.5,264.0 L283.3,264.4 L286.1,264.9 L288.8,265.5 L291.4,266.2 L294.0,266.9 L296.5,267.7 L298.9,268.5 L301.2,269.5 L303.5,270.4 L305.6,271.5 L307.6,272.6 L309.5,273.7 L311.3,275.0 L313.0,276.2 L314.5,277.5 L315.9,278.8 L317.2,280.2 L318.3,281.6 L319.3,283.0 L320.1,284.5 L320.8,286.0 L321.3,287.5 L321.7,289.0 L321.9,290.5 L322.0,292.0 Z" class="s"/><path d="M213.1,297.6 L213.0,296.6 L213.0,295.5 L213.1,294.5 L213.3,293.4 L213.5,292.4 L213.9,291.4 L214.3,290.3 L214.8,289.3 L215.4,288.3 L216.1,287.3 L216.9,286.3 L217.7,285.4 L218.6,284.4 L219.6,283.5 L220.7,282.6 L221.9,281.7 L223.1,280.8 L224.4,280.0 L225.8,279.2 L227.2,278.4 L228.7,277.6 L230.3,276.9 L231.9,276.2 L233.6,275.6 L235.4,274.9 L237.2,274.3 L239.0,273.8 L240.9,273.2 L242.8,272.8 L244.8,272.3 L246.8,271.9 L248.8,271.5 L250.9,271.2 L252.9,270.9 L255.1,270.6 L257.2,270.4 L259.3,270.3 L261.5,270.1 L263.7,270.0 L265.8,270.0 L268.0,270.0 L270.2,270.0 L272.4,270.1 L274.5,270.3 L276.7,270.4 L278.8,270.6 L280.9,270.9 L283.0,271.2 L285.1,271.5 L287.1,271.9 L289.1,272.3 L291.1,272.7 L293.0,273.2 L294.9,273.7 L296.7,274.3 L298.5,274.9 L300.3,275.5 L302.0,276.2 L303.6,276.9 L305.2,277.6 L306.7,278.4 L308.1,279.1 L309.5,280.0 L310.8,280.8 L312.0,281.7 L313.2,282.5 L314.3,283.4 L315.3,284.4 L316.2,285.3 L317.1,286.3 L317.9,287.3 L318.5,288.3 L319.2,289.3 L319.7,290.3 L320.1,291.3 L320.5,292.3 L320.7,293.4 L320.9,294.4 L321.0,295.5 L321.0,296.5" class="s"/><path class="s" d="M213.8,299 C220,305 230,310.5 239.7,312.4"/><line class="s" x1="215.2" y1="295" x2="233.5" y2="295"/><path class="w" d="M242.6,278.5 C236,284 233,290 233.5,296 C234,303 238,309.5 248.4,314.3 L256,315.5 L262,313 L266,315.5 L266,309 C260,309.5 252,309 246,307.5 C241.5,304.5 239.7,300.5 239.7,296 C239.7,291.5 240.5,288.5 242.6,286.4 Z"/><path class="w" d="M221.8,300.5 L225.5,298.5 C227,300 227.5,302 227.5,305 L222.4,304.7 Z"/><path class="w" d="M243.4,274 L243.4,298 C246,302.5 251,304.8 256,305 C261,305.2 264,306.8 268,307.3 C275,308 282,306.5 290,302 C296,298 300,294 302.8,290 L302.8,260.4 C302.8,258 302,256.8 301.7,256.4 C299,254.5 296,253 292.4,252.8 C288,252.6 285,253 282,253.6 L262.5,257.6 L252,261.6 C249.5,262.5 247.5,264.5 246,267 C244.5,269 243.4,271 243.4,274 Z"/><path class="s" d="M301.5,265 C297,269 294,272 290,274 C286,276.5 283,278.8 280.4,279.7 C276,281.2 273,282 270,282.3 C266,282.8 264,283.3 262,283.2 C257,283 253,281.5 250.8,280 C248.5,278.8 247,277.5 246.2,276"/><rect class="w" x="246.5" y="292.2" width="5.8" height="8.6" rx="2.2"/><path class="s" d="M243.4,298 C246,301 248,302 252,302.5 L258,302.5 L259,305"/><path class="s" d="M255,309 L258,306 L260.5,309.5 L263,305 L265,309 M266,304.5 L268.5,312 M268.5,304 L271,311.5"/><ellipse class="w" cx="266.2" cy="269.5" rx="12.6" ry="6.6"/><ellipse class="w" cx="266.2" cy="266.6" rx="12.6" ry="6.6"/><ellipse class="s" cx="266.4" cy="266.4" rx="6.6" ry="3.5"/><path class="s" d="M277,265.5 C276.5,262 282,258.5 289,257.2 C294,256.3 298,256.8 297.5,259.5 C297,262.5 293.5,266 289,268.5 C285,270.6 281,271 279,269.8 C277.6,269 277,267.5 277,265.5 Z"/><path class="s" d="M282,264.8 C282.5,263 286,261.5 290,261.3 C292,261.3 292,262.5 290.5,264.2 C289,266 286.5,267.3 284.5,267.5 C283,267.6 282,266.5 282,264.8 Z"/></g>
<line class="l" x1="166.7" y1="308" x2="201" y2="308"/>
<g id="shaft"><path class="w" d="M152.4,360 C152.4,355 156,353.4 160.5,353.4 C165,353.4 168.4,355 168.4,360 L168.4,446 L167,446 C163,445 160,443 156,440 L152.4,438 Z"/><ellipse class="s" cx="160.5" cy="357.8" rx="5.4" ry="2.6"/><path class="s" d="M152.4,362 C155,366 166,366 168.4,362"/><path class="s" d="M152.4,427.5 C155,430 166,430 168.4,427.5"/><path class="s" style="stroke-width:2" d="M152.4,430.5 C155,433 166,433 168.4,430.5"/><circle class="s" cx="164.6" cy="443.2" r="1.3"/></g>
<path class="s" d="M160.4,353 L160.4,339.8 L266,398.5 L266,347" fill="none"/>
<line class="l" x1="124" y1="397.2" x2="152" y2="397.2"/>
<ellipse class="s" style="stroke-width:1.8" cx="160.4" cy="463.6" rx="7.8" ry="4.8"/>
<ellipse class="s" cx="160.4" cy="463.6" rx="4" ry="2.2"/>
<line class="l" x1="128.5" y1="463.6" x2="152" y2="463.6"/>
<g transform="translate(670.5 132) rotate(-29.94)"><ellipse class="w" cx="114.5" cy="-0.5" rx="12.6" ry="19.6"/><path class="s" d="M111,-19 A12.2,18.6 0 0 1 111,18.2"/><path class="w" d="M12.5,-4.1 L110,-4.4 C112.5,-4.4 113.5,-2 113.5,0 C113.5,2 112.5,4.4 110,4.4 L12.5,4.1 Z"/><path class="s" d="M12.5,-4.1 C14,-2 14,2 12.5,4.1 M10.5,-3.6 C12,-2 12,2 10.5,3.6"/><path class="w" d="M9.5,-3.6 L12.5,-4.1 L12.5,4.1 L9.5,3.6 Z"/><path class="w" d="M3.5,-2.6 L9.5,-3 L9.5,3 L3.5,2.6 Z"/><ellipse class="w" cx="0.5" cy="0" rx="4.6" ry="5.4"/><ellipse class="s" cx="-1.5" cy="0" rx="2.6" ry="4"/></g>
<g transform="translate(822.5 171) rotate(-29.94)"><ellipse class="w" cx="114.5" cy="-0.5" rx="12.6" ry="19.6"/><path class="s" d="M111,-19 A12.2,18.6 0 0 1 111,18.2"/><path class="w" d="M12.5,-4.1 L110,-4.4 C112.5,-4.4 113.5,-2 113.5,0 C113.5,2 112.5,4.4 110,4.4 L12.5,4.1 Z"/><path class="s" d="M12.5,-4.1 C14,-2 14,2 12.5,4.1 M10.5,-3.6 C12,-2 12,2 10.5,3.6"/><path class="w" d="M9.5,-3.6 L12.5,-4.1 L12.5,4.1 L9.5,3.6 Z"/><path class="w" d="M3.5,-2.6 L9.5,-3 L9.5,3 L3.5,2.6 Z"/><ellipse class="w" cx="0.5" cy="0" rx="4.6" ry="5.4"/><ellipse class="s" cx="-1.5" cy="0" rx="2.6" ry="4"/></g>
<g><path d="M644.1,135.7 L644.9,135.1 L645.6,134.5 L646.4,134.0 L647.3,133.7 L648.2,133.4 L649.1,133.3 L650.0,133.3 L650.9,133.4 L651.8,133.6 L652.7,133.9 L653.6,134.3 L654.4,134.8 L655.3,135.4 L656.0,136.1 L656.8,136.9 L657.4,137.8 L658.0,138.7 L658.5,139.7 L659.0,140.8 L659.3,141.9 L659.6,143.0 L659.8,144.1 L659.9,145.3 L659.9,146.4 L659.8,147.6 L659.6,148.7 L659.4,149.8 L659.0,150.8 L658.6,151.8 L658.1,152.7 L657.5,153.5 L656.9,154.3 L656.1,154.9 L655.4,155.5 L654.6,156.0 L653.7,156.3 L652.8,156.6 L651.9,156.7 L651.0,156.7 L650.1,156.6" style="fill:none;stroke:#000;stroke-width:1.3;stroke-linecap:round"/><path d="M646.0,136.7 L646.6,136.3 L647.2,136.0 L647.8,135.8 L648.5,135.6 L649.1,135.6 L649.8,135.6 L650.5,135.7 L651.1,135.8 L651.8,136.1 L652.4,136.4 L653.1,136.7 L653.7,137.2 L654.2,137.7 L654.8,138.3 L655.3,138.9 L655.7,139.6 L656.2,140.3 L656.5,141.1 L656.8,141.9 L657.1,142.7 L657.3,143.5 L657.5,144.4 L657.5,145.2 L657.6,146.1 L657.5,147.0 L657.5,147.8 L657.3,148.6 L657.1,149.4 L656.8,150.2 L656.5,150.9 L656.2,151.6 L655.7,152.2 L655.3,152.7 L654.8,153.2 L654.2,153.7 L653.7,154.1 L653.1,154.4 L652.4,154.6 L651.8,154.7 L651.1,154.8" style="fill:none;stroke:#000;stroke-width:1.0;stroke-linecap:round"/><path d="M644.4,151.6 L644.2,151.4 L644.1,151.2 L644.0,151.0 L643.9,150.8 L643.8,150.6 L643.7,150.4 L643.6,150.2 L643.5,150.0 L643.4,149.8 L643.3,149.6 L643.2,149.4 L643.1,149.1 L643.0,148.9 L642.9,148.7 L642.8,148.5 L642.8,148.3 L642.7,148.0 L642.6,147.8 L642.6,147.6 L642.5,147.4 L642.5,147.1 L642.4,146.9 L642.4,146.7 L642.3,146.4 L642.3,146.2 L642.3,146.0 L642.2,145.7 L642.2,145.5 L642.2,145.3 L642.2,145.0 L642.1,144.8 L642.1,144.6 L642.1,144.3 L642.1,144.1 L642.1,143.9 L642.1,143.6 L642.1,143.4 L642.1,143.2 L642.2,142.9 L642.2,142.7" style="fill:none;stroke:#000;stroke-width:0.7;stroke-linecap:round"/><path d="M638.7,138.7 L639.5,138.0 L640.2,137.5 L641.0,137.0 L641.9,136.6 L642.8,136.4 L643.7,136.3 L644.6,136.2 L645.5,136.3 L646.4,136.5 L647.3,136.8 L648.2,137.2 L649.0,137.8 L649.9,138.4 L650.6,139.1 L651.4,139.9 L652.0,140.8 L652.6,141.7 L653.1,142.7 L653.6,143.7 L653.9,144.8 L654.2,146.0 L654.4,147.1 L654.5,148.3 L654.5,149.4 L654.4,150.5 L654.2,151.7 L654.0,152.7 L653.6,153.8 L653.2,154.7 L652.7,155.6 L652.1,156.5 L651.5,157.2 L650.7,157.9 L650.0,158.4 L649.2,158.9 L648.3,159.3 L647.4,159.5 L646.5,159.7 L645.6,159.7 L644.7,159.6" style="fill:none;stroke:#000;stroke-width:1.3;stroke-linecap:round"/><path d="M640.6,139.6 L641.2,139.3 L641.8,139.0 L642.4,138.7 L643.1,138.6 L643.7,138.5 L644.4,138.5 L645.1,138.6 L645.7,138.8 L646.4,139.0 L647.0,139.3 L647.7,139.7 L648.3,140.2 L648.8,140.7 L649.4,141.2 L649.9,141.9 L650.3,142.5 L650.8,143.3 L651.1,144.0 L651.4,144.8 L651.7,145.6 L651.9,146.5 L652.1,147.3 L652.1,148.2 L652.2,149.1 L652.1,149.9 L652.1,150.8 L651.9,151.6 L651.7,152.4 L651.4,153.1 L651.1,153.8 L650.8,154.5 L650.3,155.1 L649.9,155.7 L649.4,156.2 L648.8,156.6 L648.3,157.0 L647.7,157.3 L647.0,157.6 L646.4,157.7 L645.7,157.8" style="fill:none;stroke:#000;stroke-width:1.0;stroke-linecap:round"/><path d="M639.0,154.5 L638.8,154.3 L638.7,154.1 L638.6,154.0 L638.5,153.8 L638.4,153.6 L638.3,153.4 L638.2,153.2 L638.1,153.0 L638.0,152.7 L637.9,152.5 L637.8,152.3 L637.7,152.1 L637.6,151.9 L637.5,151.7 L637.4,151.4 L637.4,151.2 L637.3,151.0 L637.2,150.8 L637.2,150.6 L637.1,150.3 L637.1,150.1 L637.0,149.9 L637.0,149.6 L636.9,149.4 L636.9,149.2 L636.9,148.9 L636.8,148.7 L636.8,148.5 L636.8,148.2 L636.8,148.0 L636.7,147.8 L636.7,147.5 L636.7,147.3 L636.7,147.1 L636.7,146.8 L636.7,146.6 L636.7,146.4 L636.7,146.1 L636.8,145.9 L636.8,145.7" style="fill:none;stroke:#000;stroke-width:0.7;stroke-linecap:round"/><path d="M633.3,141.7 L634.1,141.0 L634.8,140.4 L635.6,140.0 L636.5,139.6 L637.4,139.4 L638.3,139.2 L639.2,139.2 L640.1,139.3 L641.0,139.5 L641.9,139.8 L642.8,140.2 L643.6,140.7 L644.5,141.3 L645.2,142.0 L646.0,142.8 L646.6,143.7 L647.2,144.7 L647.7,145.7 L648.2,146.7 L648.5,147.8 L648.8,148.9 L649.0,150.1 L649.1,151.2 L649.1,152.4 L649.0,153.5 L648.8,154.6 L648.6,155.7 L648.2,156.7 L647.8,157.7 L647.3,158.6 L646.7,159.4 L646.1,160.2 L645.3,160.8 L644.6,161.4 L643.8,161.9 L642.9,162.2 L642.0,162.5 L641.1,162.6 L640.2,162.6 L639.3,162.6" style="fill:none;stroke:#000;stroke-width:1.3;stroke-linecap:round"/><path d="M635.2,142.6 L635.8,142.2 L636.4,141.9 L637.0,141.7 L637.7,141.6 L638.3,141.5 L639.0,141.5 L639.7,141.6 L640.3,141.7 L641.0,142.0 L641.6,142.3 L642.3,142.7 L642.9,143.1 L643.4,143.6 L644.0,144.2 L644.5,144.8 L644.9,145.5 L645.4,146.2 L645.7,147.0 L646.0,147.8 L646.3,148.6 L646.5,149.4 L646.7,150.3 L646.7,151.2 L646.8,152.0 L646.7,152.9 L646.7,153.7 L646.5,154.5 L646.3,155.3 L646.0,156.1 L645.7,156.8 L645.4,157.5 L644.9,158.1 L644.5,158.7 L644.0,159.2 L643.4,159.6 L642.9,160.0 L642.3,160.3 L641.6,160.5 L641.0,160.7 L640.3,160.7" style="fill:none;stroke:#000;stroke-width:1.0;stroke-linecap:round"/><path d="M633.6,157.5 L633.4,157.3 L633.3,157.1 L633.2,156.9 L633.1,156.7 L633.0,156.5 L632.9,156.3 L632.8,156.1 L632.7,155.9 L632.6,155.7 L632.5,155.5 L632.4,155.3 L632.3,155.1 L632.2,154.8 L632.1,154.6 L632.0,154.4 L632.0,154.2 L631.9,154.0 L631.8,153.7 L631.8,153.5 L631.7,153.3 L631.7,153.1 L631.6,152.8 L631.6,152.6 L631.5,152.4 L631.5,152.1 L631.5,151.9 L631.4,151.7 L631.4,151.4 L631.4,151.2 L631.4,151.0 L631.3,150.7 L631.3,150.5 L631.3,150.3 L631.3,150.0 L631.3,149.8 L631.3,149.6 L631.3,149.3 L631.3,149.1 L631.4,148.9 L631.4,148.6" style="fill:none;stroke:#000;stroke-width:0.7;stroke-linecap:round"/><path d="M627.9,144.6 L628.7,144.0 L629.4,143.4 L630.2,142.9 L631.1,142.6 L632.0,142.3 L632.9,142.2 L633.8,142.2 L634.7,142.2 L635.6,142.4 L636.5,142.7 L637.4,143.2 L638.2,143.7 L639.1,144.3 L639.8,145.0 L640.6,145.8 L641.2,146.7 L641.8,147.6 L642.3,148.6 L642.8,149.7 L643.1,150.8 L643.4,151.9 L643.6,153.0 L643.7,154.2 L643.7,155.3 L643.6,156.5 L643.4,157.6 L643.2,158.6 L642.8,159.7 L642.4,160.6 L641.9,161.6 L641.3,162.4 L640.7,163.1 L639.9,163.8 L639.2,164.4 L638.4,164.8 L637.5,165.2 L636.6,165.4 L635.7,165.6 L634.8,165.6 L633.9,165.5" style="fill:none;stroke:#000;stroke-width:1.3;stroke-linecap:round"/><path d="M629.8,145.5 L630.4,145.2 L631.0,144.9 L631.6,144.7 L632.3,144.5 L632.9,144.4 L633.6,144.5 L634.3,144.5 L634.9,144.7 L635.6,144.9 L636.2,145.2 L636.9,145.6 L637.5,146.1 L638.0,146.6 L638.6,147.2 L639.1,147.8 L639.5,148.5 L640.0,149.2 L640.3,149.9 L640.6,150.7 L640.9,151.6 L641.1,152.4 L641.3,153.3 L641.3,154.1 L641.4,155.0 L641.3,155.8 L641.3,156.7 L641.1,157.5 L640.9,158.3 L640.6,159.0 L640.3,159.8 L640.0,160.4 L639.5,161.1 L639.1,161.6 L638.6,162.1 L638.0,162.6 L637.5,162.9 L636.9,163.2 L636.2,163.5 L635.6,163.6 L634.9,163.7" style="fill:none;stroke:#000;stroke-width:1.0;stroke-linecap:round"/><path d="M628.2,160.4 L628.0,160.3 L627.9,160.1 L627.8,159.9 L627.7,159.7 L627.6,159.5 L627.5,159.3 L627.4,159.1 L627.3,158.9 L627.2,158.7 L627.1,158.5 L627.0,158.2 L626.9,158.0 L626.8,157.8 L626.7,157.6 L626.6,157.4 L626.6,157.1 L626.5,156.9 L626.4,156.7 L626.4,156.5 L626.3,156.2 L626.3,156.0 L626.2,155.8 L626.2,155.6 L626.1,155.3 L626.1,155.1 L626.1,154.9 L626.0,154.6 L626.0,154.4 L626.0,154.2 L626.0,153.9 L625.9,153.7 L625.9,153.5 L625.9,153.2 L625.9,153.0 L625.9,152.8 L625.9,152.5 L625.9,152.3 L625.9,152.1 L626.0,151.8 L626.0,151.6" style="fill:none;stroke:#000;stroke-width:0.7;stroke-linecap:round"/><path d="M622.5,147.6 L623.3,146.9 L624.0,146.4 L624.8,145.9 L625.7,145.5 L626.6,145.3 L627.5,145.1 L628.4,145.1 L629.3,145.2 L630.2,145.4 L631.1,145.7 L632.0,146.1 L632.8,146.6 L633.7,147.3 L634.4,148.0 L635.2,148.8 L635.8,149.6 L636.4,150.6 L636.9,151.6 L637.4,152.6 L637.7,153.7 L638.0,154.8 L638.2,156.0 L638.3,157.1 L638.3,158.3 L638.2,159.4 L638.0,160.5 L637.8,161.6 L637.4,162.6 L637.0,163.6 L636.5,164.5 L635.9,165.3 L635.3,166.1 L634.5,166.8 L633.8,167.3 L633.0,167.8 L632.1,168.2 L631.2,168.4 L630.3,168.5 L629.4,168.6 L628.5,168.5" style="fill:none;stroke:#000;stroke-width:1.3;stroke-linecap:round"/><path d="M624.4,148.5 L625.0,148.1 L625.6,147.8 L626.2,147.6 L626.9,147.5 L627.5,147.4 L628.2,147.4 L628.9,147.5 L629.5,147.7 L630.2,147.9 L630.8,148.2 L631.5,148.6 L632.1,149.0 L632.6,149.5 L633.2,150.1 L633.7,150.7 L634.1,151.4 L634.6,152.1 L634.9,152.9 L635.2,153.7 L635.5,154.5 L635.7,155.4 L635.9,156.2 L635.9,157.1 L636.0,157.9 L635.9,158.8 L635.9,159.6 L635.7,160.4 L635.5,161.2 L635.2,162.0 L634.9,162.7 L634.6,163.4 L634.1,164.0 L633.7,164.6 L633.2,165.1 L632.6,165.5 L632.1,165.9 L631.5,166.2 L630.8,166.4 L630.2,166.6 L629.5,166.7" style="fill:none;stroke:#000;stroke-width:1.0;stroke-linecap:round"/><path d="M622.8,163.4 L622.6,163.2 L622.5,163.0 L622.4,162.8 L622.3,162.6 L622.2,162.4 L622.1,162.2 L622.0,162.0 L621.9,161.8 L621.8,161.6 L621.7,161.4 L621.6,161.2 L621.5,161.0 L621.4,160.8 L621.3,160.5 L621.2,160.3 L621.2,160.1 L621.1,159.9 L621.0,159.7 L621.0,159.4 L620.9,159.2 L620.9,159.0 L620.8,158.7 L620.8,158.5 L620.7,158.3 L620.7,158.0 L620.7,157.8 L620.6,157.6 L620.6,157.3 L620.6,157.1 L620.6,156.9 L620.5,156.6 L620.5,156.4 L620.5,156.2 L620.5,155.9 L620.5,155.7 L620.5,155.5 L620.5,155.2 L620.5,155.0 L620.6,154.8 L620.6,154.6" style="fill:none;stroke:#000;stroke-width:0.7;stroke-linecap:round"/><ellipse cx="623.5" cy="159.8" rx="9.3" ry="11.8" transform="rotate(-10 623.5 159.8)" style="fill:none;stroke:#000;stroke-width:1.3"/><ellipse cx="623.1" cy="160.0" rx="7.4" ry="9.7" transform="rotate(-10 623.5 159.8)" style="fill:none;stroke:#000;stroke-width:1.0"/></g>
<g><path d="M754.1,199.5 L754.9,198.9 L755.6,198.3 L756.5,197.8 L757.3,197.5 L758.2,197.2 L759.1,197.1 L760.0,197.1 L761.0,197.1 L761.9,197.3 L762.8,197.6 L763.7,198.0 L764.6,198.5 L765.4,199.1 L766.1,199.8 L766.9,200.6 L767.5,201.4 L768.1,202.3 L768.6,203.3 L769.1,204.3 L769.4,205.4 L769.7,206.5 L769.9,207.6 L770.0,208.7 L770.0,209.9 L769.9,211.0 L769.7,212.0 L769.4,213.1 L769.1,214.1 L768.6,215.1 L768.1,215.9 L767.5,216.8 L766.9,217.5 L766.1,218.1 L765.4,218.7 L764.5,219.2 L763.7,219.5 L762.8,219.8 L761.9,219.9 L761.0,219.9 L760.0,219.9" style="fill:none;stroke:#000;stroke-width:1.3;stroke-linecap:round"/><path d="M756.0,200.4 L756.6,200.1 L757.2,199.8 L757.9,199.6 L758.5,199.4 L759.2,199.4 L759.9,199.4 L760.6,199.4 L761.2,199.6 L761.9,199.8 L762.5,200.1 L763.2,200.5 L763.8,200.9 L764.3,201.4 L764.9,201.9 L765.4,202.6 L765.9,203.2 L766.3,203.9 L766.6,204.6 L767.0,205.4 L767.2,206.2 L767.4,207.0 L767.6,207.8 L767.6,208.7 L767.7,209.5 L767.6,210.3 L767.5,211.2 L767.4,212.0 L767.2,212.7 L766.9,213.5 L766.6,214.2 L766.2,214.8 L765.8,215.4 L765.3,216.0 L764.8,216.5 L764.2,216.9 L763.6,217.3 L763.0,217.6 L762.4,217.8 L761.7,218.0 L761.1,218.0" style="fill:none;stroke:#000;stroke-width:1.0;stroke-linecap:round"/><path d="M754.2,214.9 L754.1,214.8 L754.0,214.6 L753.9,214.4 L753.8,214.2 L753.7,214.0 L753.6,213.8 L753.5,213.6 L753.4,213.4 L753.3,213.2 L753.2,213.0 L753.1,212.8 L753.0,212.6 L752.9,212.4 L752.8,212.2 L752.7,211.9 L752.7,211.7 L752.6,211.5 L752.5,211.3 L752.5,211.1 L752.4,210.9 L752.4,210.6 L752.3,210.4 L752.3,210.2 L752.2,210.0 L752.2,209.7 L752.2,209.5 L752.1,209.3 L752.1,209.1 L752.1,208.8 L752.1,208.6 L752.0,208.4 L752.0,208.1 L752.0,207.9 L752.0,207.7 L752.0,207.5 L752.0,207.2 L752.0,207.0 L752.1,206.8 L752.1,206.6 L752.1,206.3" style="fill:none;stroke:#000;stroke-width:0.7;stroke-linecap:round"/><path d="M748.8,202.6 L749.6,202.0 L750.3,201.4 L751.2,200.9 L752.0,200.6 L752.9,200.3 L753.8,200.2 L754.7,200.2 L755.7,200.2 L756.6,200.4 L757.5,200.7 L758.4,201.1 L759.3,201.6 L760.1,202.2 L760.8,202.9 L761.6,203.7 L762.2,204.5 L762.8,205.4 L763.3,206.4 L763.8,207.4 L764.1,208.5 L764.4,209.6 L764.6,210.7 L764.7,211.8 L764.7,213.0 L764.6,214.1 L764.4,215.1 L764.1,216.2 L763.8,217.2 L763.3,218.2 L762.8,219.0 L762.2,219.9 L761.6,220.6 L760.8,221.2 L760.1,221.8 L759.2,222.3 L758.4,222.6 L757.5,222.9 L756.6,223.0 L755.7,223.0 L754.7,223.0" style="fill:none;stroke:#000;stroke-width:1.3;stroke-linecap:round"/><path d="M750.7,203.5 L751.3,203.2 L751.9,202.9 L752.6,202.7 L753.2,202.5 L753.9,202.5 L754.6,202.5 L755.3,202.5 L755.9,202.7 L756.6,202.9 L757.2,203.2 L757.9,203.6 L758.5,204.0 L759.0,204.5 L759.6,205.0 L760.1,205.7 L760.6,206.3 L761.0,207.0 L761.3,207.7 L761.7,208.5 L761.9,209.3 L762.1,210.1 L762.3,210.9 L762.3,211.8 L762.4,212.6 L762.3,213.4 L762.2,214.3 L762.1,215.1 L761.9,215.8 L761.6,216.6 L761.3,217.3 L760.9,217.9 L760.5,218.5 L760.0,219.1 L759.5,219.6 L758.9,220.0 L758.3,220.4 L757.7,220.7 L757.1,220.9 L756.4,221.1 L755.8,221.1" style="fill:none;stroke:#000;stroke-width:1.0;stroke-linecap:round"/><path d="M748.9,218.0 L748.8,217.9 L748.7,217.7 L748.6,217.5 L748.5,217.3 L748.4,217.1 L748.3,216.9 L748.2,216.7 L748.1,216.5 L748.0,216.3 L747.9,216.1 L747.8,215.9 L747.7,215.7 L747.6,215.5 L747.5,215.3 L747.4,215.0 L747.4,214.8 L747.3,214.6 L747.2,214.4 L747.2,214.2 L747.1,214.0 L747.1,213.7 L747.0,213.5 L747.0,213.3 L746.9,213.1 L746.9,212.8 L746.9,212.6 L746.8,212.4 L746.8,212.2 L746.8,211.9 L746.8,211.7 L746.7,211.5 L746.7,211.2 L746.7,211.0 L746.7,210.8 L746.7,210.6 L746.7,210.3 L746.7,210.1 L746.8,209.9 L746.8,209.7 L746.8,209.4" style="fill:none;stroke:#000;stroke-width:0.7;stroke-linecap:round"/><path d="M743.5,205.7 L744.3,205.1 L745.0,204.5 L745.9,204.0 L746.7,203.7 L747.6,203.4 L748.5,203.3 L749.4,203.3 L750.4,203.3 L751.3,203.5 L752.2,203.8 L753.1,204.2 L754.0,204.7 L754.8,205.3 L755.5,206.0 L756.3,206.8 L756.9,207.6 L757.5,208.5 L758.0,209.5 L758.5,210.5 L758.8,211.6 L759.1,212.7 L759.3,213.8 L759.4,214.9 L759.4,216.1 L759.3,217.2 L759.1,218.2 L758.8,219.3 L758.5,220.3 L758.0,221.3 L757.5,222.1 L756.9,223.0 L756.3,223.7 L755.5,224.3 L754.8,224.9 L753.9,225.4 L753.1,225.7 L752.2,226.0 L751.3,226.1 L750.4,226.1 L749.4,226.1" style="fill:none;stroke:#000;stroke-width:1.3;stroke-linecap:round"/><path d="M745.4,206.6 L746.0,206.3 L746.6,206.0 L747.3,205.8 L747.9,205.6 L748.6,205.6 L749.3,205.6 L750.0,205.6 L750.6,205.8 L751.3,206.0 L751.9,206.3 L752.6,206.7 L753.2,207.1 L753.7,207.6 L754.3,208.1 L754.8,208.8 L755.3,209.4 L755.7,210.1 L756.0,210.8 L756.4,211.6 L756.6,212.4 L756.8,213.2 L757.0,214.0 L757.0,214.9 L757.1,215.7 L757.0,216.5 L756.9,217.4 L756.8,218.2 L756.6,218.9 L756.3,219.7 L756.0,220.4 L755.6,221.0 L755.2,221.6 L754.7,222.2 L754.2,222.7 L753.6,223.1 L753.0,223.5 L752.4,223.8 L751.8,224.0 L751.1,224.2 L750.5,224.2" style="fill:none;stroke:#000;stroke-width:1.0;stroke-linecap:round"/><path d="M743.6,221.1 L743.5,221.0 L743.4,220.8 L743.3,220.6 L743.2,220.4 L743.1,220.2 L743.0,220.0 L742.9,219.8 L742.8,219.6 L742.7,219.4 L742.6,219.2 L742.5,219.0 L742.4,218.8 L742.3,218.6 L742.2,218.4 L742.1,218.1 L742.1,217.9 L742.0,217.7 L741.9,217.5 L741.9,217.3 L741.8,217.1 L741.8,216.8 L741.7,216.6 L741.7,216.4 L741.6,216.2 L741.6,215.9 L741.6,215.7 L741.5,215.5 L741.5,215.3 L741.5,215.0 L741.5,214.8 L741.4,214.6 L741.4,214.3 L741.4,214.1 L741.4,213.9 L741.4,213.7 L741.4,213.4 L741.4,213.2 L741.5,213.0 L741.5,212.8 L741.5,212.5" style="fill:none;stroke:#000;stroke-width:0.7;stroke-linecap:round"/><path d="M738.2,208.8 L739.0,208.2 L739.7,207.6 L740.6,207.1 L741.4,206.8 L742.3,206.5 L743.2,206.4 L744.1,206.4 L745.1,206.4 L746.0,206.6 L746.9,206.9 L747.8,207.3 L748.7,207.8 L749.5,208.4 L750.2,209.1 L751.0,209.9 L751.6,210.7 L752.2,211.6 L752.7,212.6 L753.2,213.6 L753.5,214.7 L753.8,215.8 L754.0,216.9 L754.1,218.0 L754.1,219.2 L754.0,220.3 L753.8,221.3 L753.5,222.4 L753.2,223.4 L752.7,224.4 L752.2,225.2 L751.6,226.1 L751.0,226.8 L750.2,227.4 L749.5,228.0 L748.6,228.5 L747.8,228.8 L746.9,229.1 L746.0,229.2 L745.1,229.2 L744.1,229.2" style="fill:none;stroke:#000;stroke-width:1.3;stroke-linecap:round"/><path d="M740.1,209.7 L740.7,209.4 L741.3,209.1 L742.0,208.9 L742.6,208.7 L743.3,208.7 L744.0,208.7 L744.7,208.7 L745.3,208.9 L746.0,209.1 L746.6,209.4 L747.3,209.8 L747.9,210.2 L748.4,210.7 L749.0,211.2 L749.5,211.9 L750.0,212.5 L750.4,213.2 L750.7,213.9 L751.1,214.7 L751.3,215.5 L751.5,216.3 L751.7,217.1 L751.7,218.0 L751.8,218.8 L751.7,219.6 L751.6,220.5 L751.5,221.3 L751.3,222.0 L751.0,222.8 L750.7,223.5 L750.3,224.1 L749.9,224.7 L749.4,225.3 L748.9,225.8 L748.3,226.2 L747.7,226.6 L747.1,226.9 L746.5,227.1 L745.8,227.3 L745.2,227.3" style="fill:none;stroke:#000;stroke-width:1.0;stroke-linecap:round"/><path d="M738.3,224.2 L738.2,224.1 L738.1,223.9 L738.0,223.7 L737.9,223.5 L737.8,223.3 L737.7,223.1 L737.6,222.9 L737.5,222.7 L737.4,222.5 L737.3,222.3 L737.2,222.1 L737.1,221.9 L737.0,221.7 L736.9,221.5 L736.8,221.2 L736.8,221.0 L736.7,220.8 L736.6,220.6 L736.6,220.4 L736.5,220.2 L736.5,219.9 L736.4,219.7 L736.4,219.5 L736.3,219.3 L736.3,219.0 L736.3,218.8 L736.2,218.6 L736.2,218.4 L736.2,218.1 L736.2,217.9 L736.1,217.7 L736.1,217.4 L736.1,217.2 L736.1,217.0 L736.1,216.8 L736.1,216.5 L736.1,216.3 L736.2,216.1 L736.2,215.9 L736.2,215.6" style="fill:none;stroke:#000;stroke-width:0.7;stroke-linecap:round"/><path d="M732.9,211.9 L733.7,211.3 L734.4,210.7 L735.3,210.2 L736.1,209.9 L737.0,209.6 L737.9,209.5 L738.8,209.5 L739.8,209.5 L740.7,209.7 L741.6,210.0 L742.5,210.4 L743.4,210.9 L744.2,211.5 L744.9,212.2 L745.7,213.0 L746.3,213.8 L746.9,214.7 L747.4,215.7 L747.9,216.7 L748.2,217.8 L748.5,218.9 L748.7,220.0 L748.8,221.1 L748.8,222.3 L748.7,223.4 L748.5,224.4 L748.2,225.5 L747.9,226.5 L747.4,227.5 L746.9,228.3 L746.3,229.2 L745.7,229.9 L744.9,230.5 L744.2,231.1 L743.3,231.6 L742.5,231.9 L741.6,232.2 L740.7,232.3 L739.8,232.3 L738.8,232.3" style="fill:none;stroke:#000;stroke-width:1.3;stroke-linecap:round"/><path d="M734.8,212.8 L735.4,212.5 L736.0,212.2 L736.7,212.0 L737.3,211.8 L738.0,211.8 L738.7,211.8 L739.4,211.8 L740.0,212.0 L740.7,212.2 L741.3,212.5 L742.0,212.9 L742.6,213.3 L743.1,213.8 L743.7,214.3 L744.2,215.0 L744.7,215.6 L745.1,216.3 L745.4,217.0 L745.8,217.8 L746.0,218.6 L746.2,219.4 L746.4,220.2 L746.4,221.1 L746.5,221.9 L746.4,222.7 L746.3,223.6 L746.2,224.4 L746.0,225.1 L745.7,225.9 L745.4,226.6 L745.0,227.2 L744.6,227.8 L744.1,228.4 L743.6,228.9 L743.0,229.3 L742.4,229.7 L741.8,230.0 L741.2,230.2 L740.5,230.4 L739.9,230.4" style="fill:none;stroke:#000;stroke-width:1.0;stroke-linecap:round"/><path d="M733.0,227.3 L732.9,227.2 L732.8,227.0 L732.7,226.8 L732.6,226.6 L732.5,226.4 L732.4,226.2 L732.3,226.0 L732.2,225.8 L732.1,225.6 L732.0,225.4 L731.9,225.2 L731.8,225.0 L731.7,224.8 L731.6,224.6 L731.5,224.3 L731.5,224.1 L731.4,223.9 L731.3,223.7 L731.3,223.5 L731.2,223.3 L731.2,223.0 L731.1,222.8 L731.1,222.6 L731.0,222.4 L731.0,222.1 L731.0,221.9 L730.9,221.7 L730.9,221.5 L730.9,221.2 L730.9,221.0 L730.8,220.8 L730.8,220.5 L730.8,220.3 L730.8,220.1 L730.8,219.9 L730.8,219.6 L730.8,219.4 L730.9,219.2 L730.9,219.0 L730.9,218.7" style="fill:none;stroke:#000;stroke-width:0.7;stroke-linecap:round"/><ellipse cx="734.0" cy="224.0" rx="9.4" ry="11.5" transform="rotate(-10 734.0 224.0)" style="fill:none;stroke:#000;stroke-width:1.3"/><ellipse cx="733.6" cy="224.2" rx="7.5" ry="9.4" transform="rotate(-10 734.0 224.0)" style="fill:none;stroke:#000;stroke-width:1.0"/></g>
<g transform="translate(594.5 177.5) rotate(-20)"><ellipse class="w" cx="5.5" cy="-1.2" rx="8.8" ry="11.8"/><path class="s" d="M3,-12.5 C7,-12 10,-8 10.5,-3"/><ellipse class="w" cx="0" cy="0" rx="10.3" ry="13.8"/><ellipse class="s" cx="0.8" cy="0.2" rx="7.4" ry="10.4"/><ellipse cx="1.4" cy="0.4" rx="4.4" ry="6.8" style="fill:none;stroke:#000;stroke-width:1.2"/><path d="M1.6,-4 C3,-2 3,2.5 1.6,5" style="fill:none;stroke:#000;stroke-width:1.6"/></g>
<g transform="translate(702.5 242) rotate(-20)"><ellipse class="w" cx="5.5" cy="-1.2" rx="8.8" ry="11.8"/><path class="s" d="M3,-12.5 C7,-12 10,-8 10.5,-3"/><ellipse class="w" cx="0" cy="0" rx="10.3" ry="13.8"/><ellipse class="s" cx="0.8" cy="0.2" rx="7.4" ry="10.4"/><ellipse cx="1.4" cy="0.4" rx="4.4" ry="6.8" style="fill:none;stroke:#000;stroke-width:1.2"/><path d="M1.6,-4 C3,-2 3,2.5 1.6,5" style="fill:none;stroke:#000;stroke-width:1.6"/></g>
<g transform="translate(797 187) rotate(-22)"><ellipse class="w" cx="0" cy="0" rx="10.5" ry="14.2"/><path class="s" d="M-1,-13.6 A9,13.4 0 0 1 -1,13.4"/><path class="w" d="M-3,-10 L-9,-8 L-15,-6.5 L-15,7 L-9,8 L-3,9.5 Z"/><ellipse class="w" cx="-4.5" cy="0" rx="6.5" ry="9.5"/><ellipse class="w" cx="-9.5" cy="0.3" rx="6" ry="7.6"/><ellipse cx="-12" cy="0.5" rx="5.6" ry="7" style="fill:#333;stroke:#000;stroke-width:1.3"/><ellipse cx="-12.5" cy="0.5" rx="3.6" ry="4.8" style="fill:#fff;stroke:#000;stroke-width:1.1"/><ellipse cx="-13" cy="0.5" rx="1.8" ry="2.5" style="fill:#444"/></g>
<path class="w" d="M426.34999999999997,203.8 L426.34999999999997,246 C426.34999999999997,249 435.05,249 435.05,246 L435.05,203.8 Z"/><path class="w" d="M424.4,199.8 L424.4,203.8 C424.4,208.8 437.0,208.8 437.0,203.8 L437.0,199.8 Z"/><ellipse class="w" cx="430.7" cy="199.8" rx="6.3" ry="3.9"/>
<path class="w" d="M554.85,276.6 L554.85,317.5 C554.85,320.5 564.35,320.5 564.35,317.5 L564.35,276.6 Z"/><path class="w" d="M553.3000000000001,272.6 L553.3000000000001,276.6 C553.3000000000001,281.6 565.9,281.6 565.9,276.6 L565.9,272.6 Z"/><ellipse class="w" cx="559.6" cy="272.6" rx="6.3" ry="3.9"/>
<line class="l" x1="403" y1="202.6" x2="424" y2="202.6"/>
<line class="l" x1="566.3" y1="272.6" x2="589.7" y2="272.6"/>
<g id="p16"><path class="w" d="M501.5,186.3 C503,185.3 505,184.6 506.7,184.4 C510,183.8 513,183.4 515.6,183.4 L528.2,183.8 C535,183.7 543,184 549,184.7 C553,185.5 555,189 555,194 L554.3,209.7 C554,212 552,213 549.5,213 L527,212.3 C526,212 524.9,211 524.9,209.7 L524.9,196 C524.2,194.5 523,193.6 522,193.4 C519.5,193.2 517.5,193.4 515.6,194 C512,195.4 509,197.2 506,199.2 C503.3,200.8 500.8,201.8 498.3,202.4 L497.7,190.8 Z"/><path class="s" d="M524.9,196.7 C531,195.8 537,195 541.2,194.1 C546,193 550,191.5 554.5,189"/><path class="s" d="M497.7,204.9 C500.5,204 503.5,202.5 506,201 C509,199 512.5,196.8 515.6,195.6 C518,194.8 521,194.6 524,195.5"/><path class="s" d="M498.3,198.5 C499,195 501,192.5 502.8,190.8 C504.5,189.2 506.5,188 508,187.6 C510,187.1 512,187.4 512.1,188.3 C512.2,189.3 511.8,190.1 511.2,190.8 C508.5,193 505.5,195 502.8,196.6 C501.3,197.5 499.8,198.2 498.3,198.5 Z"/><path class="w" d="M475,182.2 L482.4,177.9 L501.6,185.9 L501.6,205 L494.2,212.6 L475.6,217.6 Z"/><path class="s" d="M475,182.2 L494.2,192.1 L501.6,185.9 M494.2,192.1 L494.2,212.6 M494.5,192.7 C495.5,191.8 496.6,191.2 497.7,190.8 C499,190.1 500.2,189.4 501.5,188.9 M497.7,190.8 L497.7,210"/><rect class="s" x="477.4" y="192.7" width="3.8" height="20.5" rx="1.9"/><rect x="478.4" y="194.5" width="1.8" height="17" fill="#555"/><circle class="s" cx="489.8" cy="199.6" r="2.2"/><path class="w" d="M457,173.5 L473.7,163.6 C475,162 476,161.7 478,161.4 L484.3,161.1 C487.5,161.3 489.2,163 489.2,166 L489.2,169.2 C488.5,171 487,172 485.5,172.3 L475,178.5 L475,216.3 L470.6,216.3 L457,208.9 Z"/><path class="s" d="M457,173.5 L470.6,180.3 L470.6,216.3 M470.6,180.3 L485.5,172.3"/><ellipse class="s" cx="481.5" cy="166.5" rx="3.3" ry="1.8"/><rect class="s" x="462" y="184" width="5" height="20.5" rx="2.5"/><rect x="463.3" y="186" width="2.2" height="16.5" fill="#666"/></g>
<path class="s" d="M447.2,158.7 L447.2,217.1 L476.3,233.7 L566.8,233.7" fill="none"/>
<line class="l" x1="530.4" y1="163" x2="530.4" y2="184"/>
<g id="p5"><path class="w" d="M446.3,286.3 L451.1,282.7 C453,281.2 455.5,280.3 458.8,280.3 L497.3,280.3 C502,280.7 504,284 504,288 L504,306.2 C504,308.5 502,309.7 499,309.7 L477,309.7 C475.8,309.5 475.3,308.5 475.3,307 L475.3,293 C474.5,291 473.5,289.7 472.8,289.4 C470,289 467.5,289.2 465.1,289.7 C461,291 458,293 456,294.6 C453,296.8 450.5,298.3 448.3,298.8 L446,304 Z"/><path class="s" d="M475.3,294.3 C485,294 495,292 503.8,288.5"/><path class="s" d="M448.3,300.6 C451,300 453.5,298 456,296 C459,293.5 462,292 465.8,291.5 C469,291.2 472,291.3 474.2,292.2"/><path class="s" d="M444.8,289.7 C445.2,287.8 446.5,286.3 448,285.8 L451.8,285.5 M448.3,289.7 C448.6,288.3 449.5,287.4 451,287 M448.3,289.7 L448.3,306"/><path class="w" d="M407.9,270 L424.1,260.2 C425.5,259.2 427,258.9 428,258.9 L437.2,258.9 C439.8,259.3 441,261 441,262.8 L440.4,268 C439.5,270 437.8,271.3 435.9,271.9 L450.2,281.7 L450.2,302 L445,307.1 L430,314.9 L407.9,303.2 Z"/><path class="s" d="M407.9,270 L445,287.6 L445,307.1 M445,287.6 L450.2,284.5"/><ellipse class="s" cx="431.3" cy="262.6" rx="3" ry="1.8"/><path class="s" d="M417.6,281.7 L432.6,289.2 L432.6,307 L417.6,299.8 Z"/><path class="s" d="M421.5,286.3 L421.5,300 M421.5,286.3 L431,291"/><circle class="s" cx="426.7" cy="296" r="3"/><circle cx="437.8" cy="294.7" r="1.6" fill="#000"/></g>
<line class="l" x1="430.8" y1="315" x2="430.8" y2="335"/>
<line class="l" x1="343" y1="350.5" x2="439" y2="293.4"/>
<g transform="translate(376.1 329.5) rotate(-23.9)"><path class="w" d="M0,-1.6 C0,-2.4 1,-2.6 2,-2.6 L4,-3.3 L27.53831328784405,-3.3 C28.338313287844052,-3.3 28.338313287844052,3.3 27.53831328784405,3.3 L4,3.3 L2,2.6 C1,2.6 0,2.4 0,1.6 Z"/><path d="M4,-3.3 L4,3.3" style="fill:none;stroke:#000;stroke-width:1.1"/><path d="M6.5,-3.0999999999999996 C5.4,-1 5.4,1 6.1,3.0999999999999996" style="fill:none;stroke:#000;stroke-width:1.35"/><path d="M8.6,-3.0999999999999996 C7.5,-1 7.5,1 8.2,3.0999999999999996" style="fill:none;stroke:#000;stroke-width:1.35"/><path d="M10.6,-3.0999999999999996 C9.5,-1 9.5,1 10.2,3.0999999999999996" style="fill:none;stroke:#000;stroke-width:1.35"/><path d="M12.7,-3.0999999999999996 C11.6,-1 11.6,1 12.3,3.0999999999999996" style="fill:none;stroke:#000;stroke-width:1.35"/><path d="M14.7,-3.0999999999999996 C13.6,-1 13.6,1 14.3,3.0999999999999996" style="fill:none;stroke:#000;stroke-width:1.35"/><path d="M16.8,-3.0999999999999996 C15.7,-1 15.7,1 16.4,3.0999999999999996" style="fill:none;stroke:#000;stroke-width:1.35"/><path d="M18.8,-3.0999999999999996 C17.7,-1 17.7,1 18.4,3.0999999999999996" style="fill:none;stroke:#000;stroke-width:1.35"/><path d="M20.9,-3.0999999999999996 C19.8,-1 19.8,1 20.5,3.0999999999999996" style="fill:none;stroke:#000;stroke-width:1.35"/><path d="M22.9,-3.0999999999999996 C21.8,-1 21.8,1 22.5,3.0999999999999996" style="fill:none;stroke:#000;stroke-width:1.35"/><path d="M25.0,-3.0999999999999996 C23.9,-1 23.9,1 24.6,3.0999999999999996" style="fill:none;stroke:#000;stroke-width:1.35"/><path d="M27.0,-3.0999999999999996 C25.9,-1 25.9,1 26.6,3.0999999999999996" style="fill:none;stroke:#000;stroke-width:1.35"/></g>
<path d="M363.0,343.9 L357.9,349.1 L350.9,347.2 L349.0,340.1 L354.1,334.9 L361.1,336.8 Z" style="fill:#fff;stroke:#000;stroke-width:1.7;stroke-linejoin:round"/><ellipse cx="354.2" cy="343.9" rx="4.9" ry="5.1" style="fill:#fff;stroke:#000;stroke-width:1.4"/><circle cx="353.8" cy="344.3" r="2.6" style="fill:#2a2a2a;stroke:#000;stroke-width:0.8"/><path d="M356.8,337.5 L358.6,341.4 L362.6,343.2 M358.6,341.4 L358.8,346.8" style="fill:none;stroke:#000;stroke-width:1.2"/>
<line class="l" x1="385.6" y1="303" x2="385.6" y2="320"/>
<line class="l" x1="359.3" y1="350" x2="359.3" y2="374.2"/>
<line class="l" x1="452" y1="387.5" x2="524.8" y2="344.8"/>
<g transform="translate(483.5 368.2) rotate(-31.5)"><path class="w" d="M0,-1.6 C0,-2.4 1,-2.6 2,-2.6 L4,-3.3 L26.400735284179344,-3.3 C27.200735284179345,-3.3 27.200735284179345,3.3 26.400735284179344,3.3 L4,3.3 L2,2.6 C1,2.6 0,2.4 0,1.6 Z"/><path d="M4,-3.3 L4,3.3" style="fill:none;stroke:#000;stroke-width:1.1"/><path d="M6.5,-3.0999999999999996 C5.4,-1 5.4,1 6.1,3.0999999999999996" style="fill:none;stroke:#000;stroke-width:1.35"/><path d="M8.6,-3.0999999999999996 C7.5,-1 7.5,1 8.2,3.0999999999999996" style="fill:none;stroke:#000;stroke-width:1.35"/><path d="M10.6,-3.0999999999999996 C9.5,-1 9.5,1 10.2,3.0999999999999996" style="fill:none;stroke:#000;stroke-width:1.35"/><path d="M12.7,-3.0999999999999996 C11.6,-1 11.6,1 12.3,3.0999999999999996" style="fill:none;stroke:#000;stroke-width:1.35"/><path d="M14.7,-3.0999999999999996 C13.6,-1 13.6,1 14.3,3.0999999999999996" style="fill:none;stroke:#000;stroke-width:1.35"/><path d="M16.8,-3.0999999999999996 C15.7,-1 15.7,1 16.4,3.0999999999999996" style="fill:none;stroke:#000;stroke-width:1.35"/><path d="M18.8,-3.0999999999999996 C17.7,-1 17.7,1 18.4,3.0999999999999996" style="fill:none;stroke:#000;stroke-width:1.35"/><path d="M20.9,-3.0999999999999996 C19.8,-1 19.8,1 20.5,3.0999999999999996" style="fill:none;stroke:#000;stroke-width:1.35"/><path d="M22.9,-3.0999999999999996 C21.8,-1 21.8,1 22.5,3.0999999999999996" style="fill:none;stroke:#000;stroke-width:1.35"/><path d="M25.0,-3.0999999999999996 C23.9,-1 23.9,1 24.6,3.0999999999999996" style="fill:none;stroke:#000;stroke-width:1.35"/></g>
<path d="M467.6,382.4 L462.6,387.5 L455.9,385.6 L454.0,378.8 L459.0,373.7 L465.7,375.6 Z" style="fill:#fff;stroke:#000;stroke-width:1.7;stroke-linejoin:round"/><ellipse cx="459.0" cy="382.5" rx="4.9" ry="5.1" style="fill:#fff;stroke:#000;stroke-width:1.4"/><circle cx="458.6" cy="382.9" r="2.6" style="fill:#2a2a2a;stroke:#000;stroke-width:0.8"/><path d="M461.6,376.1 L463.4,380.0 L467.4,381.8 M463.4,380.0 L463.6,385.4" style="fill:none;stroke:#000;stroke-width:1.2"/>
<line class="l" x1="497.1" y1="366.5" x2="497.1" y2="382.6"/>
<line class="l" x1="464.5" y1="388" x2="464.5" y2="418.3"/>
<g id="p4"><path class="w" d="M519.6,331.2 L526,327.2 L553.3,336.8 C555,335 557,334 558.1,335.2 L563,333.6 C567,333.8 570,336 570.2,339.3 L571,344.1 L556.5,353.7 L556.5,385.8 L554.1,386.6 L534,373 C528,369 523.5,366 522.8,361.7 L519.6,334 Z"/><path class="s" d="M519.6,334 L555.7,351.3 L556.5,353.7"/><ellipse class="s" cx="563.5" cy="338.5" rx="3.2" ry="1.8"/><path class="s" d="M530,348 L542.9,354.5 L542.9,369 L531.7,357.7 Z"/><path class="s" d="M532,352 L540.5,356.5 L540.5,365"/><circle cx="523" cy="344.9" r="2" style="fill:#fff;stroke:#000;stroke-width:1.6"/><path class="w" d="M556.5,353.7 L571,344.1 L575.8,348.9 L576.6,340 L579,331.2 C580,329.5 583,328.5 585.4,328.8 C587.5,329.5 588.6,331 588.6,332.8 L593.4,359.3 L572.6,374.5 L556.5,385.8 Z"/><path class="s" d="M558.1,363.3 L567.8,362.5 L576.6,368.1 M567.8,362.5 L593.4,359.3 M558.1,373 L572.6,374.5"/><path class="s" d="M575.8,348.9 C577,346 578,344 580,343.5 M576.6,340 L578.5,346"/><ellipse class="s" cx="563" cy="370" rx="3" ry="2"/></g>
<line class="l" x1="555.7" y1="386.6" x2="555.7" y2="412"/>
<g id="p15"><path class="w" d="M668,372.5 L681.1,366.6 L689.5,370.9 L690.3,352 C691,349 693,347.5 695.1,347.5 C698,347.5 700,349 700.7,351.2 L706.3,372.3 C707,375 707,378 706.3,380.7 L690,391 L671.3,405.9 L669.9,404 Z"/><path class="s" d="M690.3,352 L693.5,349.5 M693.5,349.5 L692,364 L689.5,370.9"/><circle class="s" cx="690" cy="369" r="1.4"/><path class="w" d="M676,383.5 L699.3,375.8 C701,375.6 702,377.5 701.4,380 L686,389 C683,390.5 679.5,390 677.5,388.5 Z"/><path class="s" d="M672,385 L676,383.5 M672,391 L678,390 M672,396 L683,393"/><path class="w" d="M632.5,351 C632.5,349 633.5,347.5 635,347 L639,346.3 L655.2,355.4 L655.2,400.5 L650.2,399 L646,398 L633.4,378 Z"/><path class="s" d="M632.5,351 L650.2,363.8 L650.2,399 M650.2,363.8 L655.2,355.4"/><rect class="s" x="643" y="367.3" width="3.8" height="19" rx="1.9"/><circle class="s" cx="636.2" cy="363.8" r="2.2"/><path class="w" d="M655.2,364 L658.7,356.1 L665.7,354 C668,352.8 670,352.5 672.7,352.5 C676.5,352.6 679.5,353.5 681.1,355 C683,356.5 683.9,358.5 683.9,360.5 C683.9,363 683.5,365 682.5,366.6 L669.9,372.3 L669.9,404 L657.3,399.5 L655.2,398 Z"/><path class="s" d="M655.9,364.5 L668.5,370.9 L669.9,372.3 M657.3,399.5 L657.3,366"/><ellipse class="s" cx="673.4" cy="358.9" rx="3.4" ry="2"/><path class="s" d="M683.2,364.8 L672.3,371.2 L672.3,404.8"/><rect class="s" x="658.3" y="374.4" width="3.8" height="19.5" rx="1.9"/><rect x="659.3" y="376.5" width="1.8" height="15.5" fill="#555"/></g>
<path class="s" d="M618,448.5 L618,346 L646.6,328.6 L723.2,328.6" fill="none"/>
<line class="l" x1="670.6" y1="405" x2="670.6" y2="428.7"/>
<path d="M822,288.4 L838.4,288.4 L838.4,295.7 L844.6,295.7 L829.8,309.4 L815.3,295.7 L822,295.7 Z" fill="#fff" stroke="#000" stroke-width="1.4" stroke-linejoin="miter"/>
<g transform="translate(32 473.7) rotate(-28)"><path d="M0,0 L13,-11 L11,-5.2 L34.5,-5.2 L34.5,5.2 L11,5.2 L13,11 Z" fill="#000"/><text x="35.2" y="6.2" style="font-family:Liberation Sans,sans-serif;font-weight:bold;font-size:16.3px;fill:#000;stroke:#000;stroke-width:1.35;stroke-linejoin:round">FR</text><circle cx="61.3" cy="2.6" r="2.6" fill="#000"/></g>
<text x="139.35" y="142.3" class="lb" style="text-anchor:start">3</text><path d="M526.09,144.54 L527.64,144.54 L527.64,156.00 L526.09,156.00 L526.09,147.20 L525.08,147.92 L524.04,148.35 L523.08,148.67 L523.08,147.52 L524.20,146.96 L525.20,146.05 Z" style="fill:#000;stroke:#000;stroke-width:0.4;stroke-linejoin:round"/><text x="529.90" y="156" class="lb" style="text-anchor:start">6</text><text x="387.75" y="208.5" class="lb" style="text-anchor:start">6</text><text x="597.35" y="278.5" class="lb" style="text-anchor:start">6</text><path d="M158.74,303.14 L160.29,303.14 L160.29,314.60 L158.74,314.60 L158.74,305.80 L157.73,306.52 L156.69,306.95 L155.73,307.27 L155.73,306.12 L156.85,305.56 L157.84,304.65 Z" style="fill:#000;stroke:#000;stroke-width:0.4;stroke-linejoin:round"/><path d="M381.39,285.04 L382.94,285.04 L382.94,296.50 L381.39,296.50 L381.39,287.70 L380.38,288.42 L379.34,288.85 L378.38,289.17 L378.38,288.02 L379.50,287.46 L380.50,286.55 Z" style="fill:#000;stroke:#000;stroke-width:0.4;stroke-linejoin:round"/><path d="M390.29,285.04 L391.84,285.04 L391.84,296.50 L390.29,296.50 L390.29,287.70 L389.28,288.42 L388.24,288.85 L387.28,289.17 L387.28,288.02 L388.40,287.46 L389.39,286.55 Z" style="fill:#000;stroke:#000;stroke-width:0.4;stroke-linejoin:round"/><text x="426.05" y="354.6" class="lb" style="text-anchor:start">5</text><path d="M355.69,381.94 L357.24,381.94 L357.24,393.40 L355.69,393.40 L355.69,384.60 L354.68,385.32 L353.64,385.75 L352.68,386.07 L352.68,384.92 L353.80,384.36 L354.80,383.45 Z" style="fill:#000;stroke:#000;stroke-width:0.4;stroke-linejoin:round"/><text x="359.50" y="393.4" class="lb" style="text-anchor:start">2</text><text x="109.05" y="402.9" class="lb" style="text-anchor:start">2</text><path d="M111.19,457.54 L112.74,457.54 L112.74,469.00 L111.19,469.00 L111.19,460.20 L110.18,460.92 L109.14,461.35 L108.18,461.67 L108.18,460.52 L109.30,459.96 L110.30,459.05 Z" style="fill:#000;stroke:#000;stroke-width:0.4;stroke-linejoin:round"/><text x="115.00" y="469" class="lb" style="text-anchor:start">3</text><path d="M493.69,390.74 L495.24,390.74 L495.24,402.20 L493.69,402.20 L493.69,393.40 L492.68,394.12 L491.64,394.55 L490.68,394.87 L490.68,393.72 L491.80,393.16 L492.80,392.25 Z" style="fill:#000;stroke:#000;stroke-width:0.4;stroke-linejoin:round"/><path d="M502.59,390.74 L504.14,390.74 L504.14,402.20 L502.59,402.20 L502.59,393.40 L501.58,394.12 L500.54,394.55 L499.58,394.87 L499.58,393.72 L500.70,393.16 L501.69,392.25 Z" style="fill:#000;stroke:#000;stroke-width:0.4;stroke-linejoin:round"/><path d="M461.09,424.84 L462.64,424.84 L462.64,436.30 L461.09,436.30 L461.09,427.50 L460.08,428.22 L459.04,428.65 L458.08,428.97 L458.08,427.82 L459.20,427.26 L460.20,426.35 Z" style="fill:#000;stroke:#000;stroke-width:0.4;stroke-linejoin:round"/><text x="464.90" y="436.3" class="lb" style="text-anchor:start">2</text><text x="550.95" y="428.5" class="lb" style="text-anchor:start">4</text><path d="M666.99,436.34 L668.54,436.34 L668.54,447.80 L666.99,447.80 L666.99,439.00 L665.98,439.72 L664.94,440.15 L663.98,440.47 L663.98,439.32 L665.10,438.76 L666.10,437.85 Z" style="fill:#000;stroke:#000;stroke-width:0.4;stroke-linejoin:round"/><text x="670.80" y="447.8" class="lb" style="text-anchor:start">5</text><text x="830" y="328.6" class="lb" style="font-weight:bold;font-size:15.5px;stroke-width:0.8;letter-spacing:0.4px">E-3</text><text x="839.41" y="479" class="lb" style="text-anchor:start;font-size:11.7px;stroke-width:0.3">Z</text><text x="846.56" y="479" class="lb" style="text-anchor:start;font-size:11.7px;stroke-width:0.3">M</text><text x="856.31" y="479" class="lb" style="text-anchor:start;font-size:11.7px;stroke-width:0.3">0</text><text x="862.81" y="479" class="lb" style="text-anchor:start;font-size:11.7px;stroke-width:0.3">0</text><text x="869.32" y="479" class="lb" style="text-anchor:start;font-size:11.7px;stroke-width:0.3">E</text><path d="M880.84,470.62 L881.98,470.62 L881.98,479.00 L880.84,479.00 L880.84,472.56 L880.10,473.09 L879.34,473.41 L878.64,473.64 L878.64,472.80 L879.46,472.39 L880.19,471.72 Z" style="fill:#000;stroke:#000;stroke-width:0.3;stroke-linejoin:round"/><text x="883.63" y="479" class="lb" style="text-anchor:start;font-size:11.7px;stroke-width:0.3">0</text><text x="890.13" y="479" class="lb" style="text-anchor:start;font-size:11.7px;stroke-width:0.3">0</text><text x="896.64" y="479" class="lb" style="text-anchor:start;font-size:11.7px;stroke-width:0.3">0</text><text x="903.14" y="479" class="lb" style="text-anchor:start;font-size:11.7px;stroke-width:0.3">C</text>
</svg>
</body></html>
